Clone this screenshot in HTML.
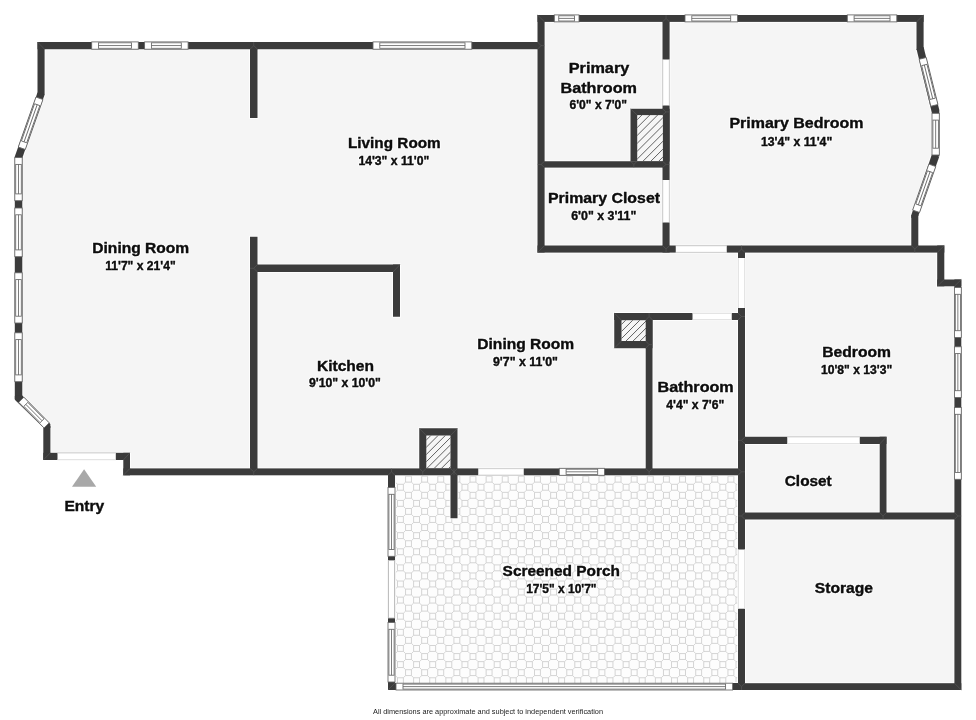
<!DOCTYPE html>
<html><head><meta charset="utf-8"><title>Floor plan</title>
<style>
html,body{margin:0;padding:0;background:#fff;}
body{width:976px;height:720px;overflow:hidden;font-family:"Liberation Sans",sans-serif;}
svg{display:block}
svg text{font-family:"Liberation Sans",sans-serif;}
svg text.h{fill:#fff;stroke:#fff;stroke-width:2.4px;stroke-opacity:.8;fill-opacity:.8;stroke-linejoin:round}
svg text.f{fill:#0d0d0d;stroke:#0d0d0d;stroke-width:.4px}
#wrap{will-change:transform;transform:translateZ(0)}
</style></head><body>
<div id="wrap"><svg width="976" height="720" viewBox="0 0 976 720">
<defs>
<pattern id="tile" patternUnits="userSpaceOnUse" width="16.12" height="16.12" x="396.41" y="475.17">
<rect width="16.12" height="16.12" fill="#fdfdfd"/>
<g fill="none" stroke="#cfcfcf" stroke-width="0.9"><rect x="-15.04" y="-6.98" width="5.90" height="5.90"/><path d="M-9.14 -1.08L-6.98 1.08M-15.04 -1.08L-17.20 1.08"/><rect x="-15.04" y="9.14" width="5.90" height="5.90"/><path d="M-9.14 15.04L-6.98 17.20M-15.04 15.04L-17.20 17.20"/><rect x="-15.04" y="25.26" width="5.90" height="5.90"/><path d="M-9.14 31.16L-6.98 33.32M-15.04 31.16L-17.20 33.32"/><rect x="-6.98" y="-15.04" width="5.90" height="5.90"/><path d="M-1.08 -9.14L1.08 -6.98M-6.98 -9.14L-9.14 -6.98"/><rect x="-6.98" y="1.08" width="5.90" height="5.90"/><path d="M-1.08 6.98L1.08 9.14M-6.98 6.98L-9.14 9.14"/><rect x="-6.98" y="17.20" width="5.90" height="5.90"/><path d="M-1.08 23.10L1.08 25.26M-6.98 23.10L-9.14 25.26"/><rect x="-6.98" y="33.32" width="5.90" height="5.90"/><path d="M-1.08 39.22L1.08 41.38M-6.98 39.22L-9.14 41.38"/><rect x="1.08" y="-6.98" width="5.90" height="5.90"/><path d="M6.98 -1.08L9.14 1.08M1.08 -1.08L-1.08 1.08"/><rect x="1.08" y="9.14" width="5.90" height="5.90"/><path d="M6.98 15.04L9.14 17.20M1.08 15.04L-1.08 17.20"/><rect x="1.08" y="25.26" width="5.90" height="5.90"/><path d="M6.98 31.16L9.14 33.32M1.08 31.16L-1.08 33.32"/><rect x="9.14" y="-15.04" width="5.90" height="5.90"/><path d="M15.04 -9.14L17.20 -6.98M9.14 -9.14L6.98 -6.98"/><rect x="9.14" y="1.08" width="5.90" height="5.90"/><path d="M15.04 6.98L17.20 9.14M9.14 6.98L6.98 9.14"/><rect x="9.14" y="17.20" width="5.90" height="5.90"/><path d="M15.04 23.10L17.20 25.26M9.14 23.10L6.98 25.26"/><rect x="9.14" y="33.32" width="5.90" height="5.90"/><path d="M15.04 39.22L17.20 41.38M9.14 39.22L6.98 41.38"/><rect x="17.20" y="-6.98" width="5.90" height="5.90"/><path d="M23.10 -1.08L25.26 1.08M17.20 -1.08L15.04 1.08"/><rect x="17.20" y="9.14" width="5.90" height="5.90"/><path d="M23.10 15.04L25.26 17.20M17.20 15.04L15.04 17.20"/><rect x="17.20" y="25.26" width="5.90" height="5.90"/><path d="M23.10 31.16L25.26 33.32M17.20 31.16L15.04 33.32"/><rect x="25.26" y="-15.04" width="5.90" height="5.90"/><path d="M31.16 -9.14L33.32 -6.98M25.26 -9.14L23.10 -6.98"/><rect x="25.26" y="1.08" width="5.90" height="5.90"/><path d="M31.16 6.98L33.32 9.14M25.26 6.98L23.10 9.14"/><rect x="25.26" y="17.20" width="5.90" height="5.90"/><path d="M31.16 23.10L33.32 25.26M25.26 23.10L23.10 25.26"/><rect x="25.26" y="33.32" width="5.90" height="5.90"/><path d="M31.16 39.22L33.32 41.38M25.26 39.22L23.10 41.38"/><rect x="33.32" y="-6.98" width="5.90" height="5.90"/><path d="M39.22 -1.08L41.38 1.08M33.32 -1.08L31.16 1.08"/><rect x="33.32" y="9.14" width="5.90" height="5.90"/><path d="M39.22 15.04L41.38 17.20M33.32 15.04L31.16 17.20"/><rect x="33.32" y="25.26" width="5.90" height="5.90"/><path d="M39.22 31.16L41.38 33.32M33.32 31.16L31.16 33.32"/></g>
</pattern>
<pattern id="hatch" patternUnits="userSpaceOnUse" width="5.66" height="5.66" patternTransform="rotate(-45)">
<rect width="5.66" height="5.66" fill="#f5f5f5"/><line x1="0" y1="2.8" x2="5.66" y2="2.8" stroke="#5a5a5a" stroke-width="0.9"/></pattern>
</defs>
<polygon points="41.00,45.50 541.00,45.50 541.00,18.00 920.00,18.00 920.00,48.50 935.50,111.50 935.50,155.50 915.00,216.00 915.00,249.00 940.70,249.00 940.70,283.00 958.00,283.00 958.00,686.50 741.50,686.50 741.50,472.00 126.50,472.00 126.50,456.50 46.80,456.50 46.80,426.00 18.50,398.00 18.50,157.50 41.00,94.00" fill="#f5f5f5" />
<rect x="391.50" y="472.00" width="350.00" height="214.50" fill="#fdfdfd" />
<clipPath id="pc"><rect x="391.5" y="472" width="350" height="214.5"/></clipPath><path clip-path="url(#pc)" fill="none" stroke="#cfcfcf" stroke-width="0.9" d="M389.43 460.13h5.90v5.90h-5.90zm0 5.90l-2.16 2.16m8.06 -2.16l2.16 2.16M405.55 460.13h5.90v5.90h-5.90zm0 5.90l-2.16 2.16m8.06 -2.16l2.16 2.16M421.67 460.13h5.90v5.90h-5.90zm0 5.90l-2.16 2.16m8.06 -2.16l2.16 2.16M437.79 460.13h5.90v5.90h-5.90zm0 5.90l-2.16 2.16m8.06 -2.16l2.16 2.16M453.91 460.13h5.90v5.90h-5.90zm0 5.90l-2.16 2.16m8.06 -2.16l2.16 2.16M470.03 460.13h5.90v5.90h-5.90zm0 5.90l-2.16 2.16m8.06 -2.16l2.16 2.16M486.15 460.13h5.90v5.90h-5.90zm0 5.90l-2.16 2.16m8.06 -2.16l2.16 2.16M502.27 460.13h5.90v5.90h-5.90zm0 5.90l-2.16 2.16m8.06 -2.16l2.16 2.16M518.39 460.13h5.90v5.90h-5.90zm0 5.90l-2.16 2.16m8.06 -2.16l2.16 2.16M534.51 460.13h5.90v5.90h-5.90zm0 5.90l-2.16 2.16m8.06 -2.16l2.16 2.16M550.63 460.13h5.90v5.90h-5.90zm0 5.90l-2.16 2.16m8.06 -2.16l2.16 2.16M566.75 460.13h5.90v5.90h-5.90zm0 5.90l-2.16 2.16m8.06 -2.16l2.16 2.16M582.87 460.13h5.90v5.90h-5.90zm0 5.90l-2.16 2.16m8.06 -2.16l2.16 2.16M598.99 460.13h5.90v5.90h-5.90zm0 5.90l-2.16 2.16m8.06 -2.16l2.16 2.16M615.11 460.13h5.90v5.90h-5.90zm0 5.90l-2.16 2.16m8.06 -2.16l2.16 2.16M631.23 460.13h5.90v5.90h-5.90zm0 5.90l-2.16 2.16m8.06 -2.16l2.16 2.16M647.35 460.13h5.90v5.90h-5.90zm0 5.90l-2.16 2.16m8.06 -2.16l2.16 2.16M663.47 460.13h5.90v5.90h-5.90zm0 5.90l-2.16 2.16m8.06 -2.16l2.16 2.16M679.59 460.13h5.90v5.90h-5.90zm0 5.90l-2.16 2.16m8.06 -2.16l2.16 2.16M695.71 460.13h5.90v5.90h-5.90zm0 5.90l-2.16 2.16m8.06 -2.16l2.16 2.16M711.83 460.13h5.90v5.90h-5.90zm0 5.90l-2.16 2.16m8.06 -2.16l2.16 2.16M727.95 460.13h5.90v5.90h-5.90zm0 5.90l-2.16 2.16m8.06 -2.16l2.16 2.16M744.07 460.13h5.90v5.90h-5.90zm0 5.90l-2.16 2.16m8.06 -2.16l2.16 2.16M381.37 468.19h5.90v5.90h-5.90zm0 5.90l-2.16 2.16m8.06 -2.16l2.16 2.16M397.49 468.19h5.90v5.90h-5.90zm0 5.90l-2.16 2.16m8.06 -2.16l2.16 2.16M413.61 468.19h5.90v5.90h-5.90zm0 5.90l-2.16 2.16m8.06 -2.16l2.16 2.16M429.73 468.19h5.90v5.90h-5.90zm0 5.90l-2.16 2.16m8.06 -2.16l2.16 2.16M445.85 468.19h5.90v5.90h-5.90zm0 5.90l-2.16 2.16m8.06 -2.16l2.16 2.16M461.97 468.19h5.90v5.90h-5.90zm0 5.90l-2.16 2.16m8.06 -2.16l2.16 2.16M478.09 468.19h5.90v5.90h-5.90zm0 5.90l-2.16 2.16m8.06 -2.16l2.16 2.16M494.21 468.19h5.90v5.90h-5.90zm0 5.90l-2.16 2.16m8.06 -2.16l2.16 2.16M510.33 468.19h5.90v5.90h-5.90zm0 5.90l-2.16 2.16m8.06 -2.16l2.16 2.16M526.45 468.19h5.90v5.90h-5.90zm0 5.90l-2.16 2.16m8.06 -2.16l2.16 2.16M542.57 468.19h5.90v5.90h-5.90zm0 5.90l-2.16 2.16m8.06 -2.16l2.16 2.16M558.69 468.19h5.90v5.90h-5.90zm0 5.90l-2.16 2.16m8.06 -2.16l2.16 2.16M574.81 468.19h5.90v5.90h-5.90zm0 5.90l-2.16 2.16m8.06 -2.16l2.16 2.16M590.93 468.19h5.90v5.90h-5.90zm0 5.90l-2.16 2.16m8.06 -2.16l2.16 2.16M607.05 468.19h5.90v5.90h-5.90zm0 5.90l-2.16 2.16m8.06 -2.16l2.16 2.16M623.17 468.19h5.90v5.90h-5.90zm0 5.90l-2.16 2.16m8.06 -2.16l2.16 2.16M639.29 468.19h5.90v5.90h-5.90zm0 5.90l-2.16 2.16m8.06 -2.16l2.16 2.16M655.41 468.19h5.90v5.90h-5.90zm0 5.90l-2.16 2.16m8.06 -2.16l2.16 2.16M671.53 468.19h5.90v5.90h-5.90zm0 5.90l-2.16 2.16m8.06 -2.16l2.16 2.16M687.65 468.19h5.90v5.90h-5.90zm0 5.90l-2.16 2.16m8.06 -2.16l2.16 2.16M703.77 468.19h5.90v5.90h-5.90zm0 5.90l-2.16 2.16m8.06 -2.16l2.16 2.16M719.89 468.19h5.90v5.90h-5.90zm0 5.90l-2.16 2.16m8.06 -2.16l2.16 2.16M736.01 468.19h5.90v5.90h-5.90zm0 5.90l-2.16 2.16m8.06 -2.16l2.16 2.16M389.43 476.25h5.90v5.90h-5.90zm0 5.90l-2.16 2.16m8.06 -2.16l2.16 2.16M405.55 476.25h5.90v5.90h-5.90zm0 5.90l-2.16 2.16m8.06 -2.16l2.16 2.16M421.67 476.25h5.90v5.90h-5.90zm0 5.90l-2.16 2.16m8.06 -2.16l2.16 2.16M437.79 476.25h5.90v5.90h-5.90zm0 5.90l-2.16 2.16m8.06 -2.16l2.16 2.16M453.91 476.25h5.90v5.90h-5.90zm0 5.90l-2.16 2.16m8.06 -2.16l2.16 2.16M470.03 476.25h5.90v5.90h-5.90zm0 5.90l-2.16 2.16m8.06 -2.16l2.16 2.16M486.15 476.25h5.90v5.90h-5.90zm0 5.90l-2.16 2.16m8.06 -2.16l2.16 2.16M502.27 476.25h5.90v5.90h-5.90zm0 5.90l-2.16 2.16m8.06 -2.16l2.16 2.16M518.39 476.25h5.90v5.90h-5.90zm0 5.90l-2.16 2.16m8.06 -2.16l2.16 2.16M534.51 476.25h5.90v5.90h-5.90zm0 5.90l-2.16 2.16m8.06 -2.16l2.16 2.16M550.63 476.25h5.90v5.90h-5.90zm0 5.90l-2.16 2.16m8.06 -2.16l2.16 2.16M566.75 476.25h5.90v5.90h-5.90zm0 5.90l-2.16 2.16m8.06 -2.16l2.16 2.16M582.87 476.25h5.90v5.90h-5.90zm0 5.90l-2.16 2.16m8.06 -2.16l2.16 2.16M598.99 476.25h5.90v5.90h-5.90zm0 5.90l-2.16 2.16m8.06 -2.16l2.16 2.16M615.11 476.25h5.90v5.90h-5.90zm0 5.90l-2.16 2.16m8.06 -2.16l2.16 2.16M631.23 476.25h5.90v5.90h-5.90zm0 5.90l-2.16 2.16m8.06 -2.16l2.16 2.16M647.35 476.25h5.90v5.90h-5.90zm0 5.90l-2.16 2.16m8.06 -2.16l2.16 2.16M663.47 476.25h5.90v5.90h-5.90zm0 5.90l-2.16 2.16m8.06 -2.16l2.16 2.16M679.59 476.25h5.90v5.90h-5.90zm0 5.90l-2.16 2.16m8.06 -2.16l2.16 2.16M695.71 476.25h5.90v5.90h-5.90zm0 5.90l-2.16 2.16m8.06 -2.16l2.16 2.16M711.83 476.25h5.90v5.90h-5.90zm0 5.90l-2.16 2.16m8.06 -2.16l2.16 2.16M727.95 476.25h5.90v5.90h-5.90zm0 5.90l-2.16 2.16m8.06 -2.16l2.16 2.16M744.07 476.25h5.90v5.90h-5.90zm0 5.90l-2.16 2.16m8.06 -2.16l2.16 2.16M381.37 484.31h5.90v5.90h-5.90zm0 5.90l-2.16 2.16m8.06 -2.16l2.16 2.16M397.49 484.31h5.90v5.90h-5.90zm0 5.90l-2.16 2.16m8.06 -2.16l2.16 2.16M413.61 484.31h5.90v5.90h-5.90zm0 5.90l-2.16 2.16m8.06 -2.16l2.16 2.16M429.73 484.31h5.90v5.90h-5.90zm0 5.90l-2.16 2.16m8.06 -2.16l2.16 2.16M445.85 484.31h5.90v5.90h-5.90zm0 5.90l-2.16 2.16m8.06 -2.16l2.16 2.16M461.97 484.31h5.90v5.90h-5.90zm0 5.90l-2.16 2.16m8.06 -2.16l2.16 2.16M478.09 484.31h5.90v5.90h-5.90zm0 5.90l-2.16 2.16m8.06 -2.16l2.16 2.16M494.21 484.31h5.90v5.90h-5.90zm0 5.90l-2.16 2.16m8.06 -2.16l2.16 2.16M510.33 484.31h5.90v5.90h-5.90zm0 5.90l-2.16 2.16m8.06 -2.16l2.16 2.16M526.45 484.31h5.90v5.90h-5.90zm0 5.90l-2.16 2.16m8.06 -2.16l2.16 2.16M542.57 484.31h5.90v5.90h-5.90zm0 5.90l-2.16 2.16m8.06 -2.16l2.16 2.16M558.69 484.31h5.90v5.90h-5.90zm0 5.90l-2.16 2.16m8.06 -2.16l2.16 2.16M574.81 484.31h5.90v5.90h-5.90zm0 5.90l-2.16 2.16m8.06 -2.16l2.16 2.16M590.93 484.31h5.90v5.90h-5.90zm0 5.90l-2.16 2.16m8.06 -2.16l2.16 2.16M607.05 484.31h5.90v5.90h-5.90zm0 5.90l-2.16 2.16m8.06 -2.16l2.16 2.16M623.17 484.31h5.90v5.90h-5.90zm0 5.90l-2.16 2.16m8.06 -2.16l2.16 2.16M639.29 484.31h5.90v5.90h-5.90zm0 5.90l-2.16 2.16m8.06 -2.16l2.16 2.16M655.41 484.31h5.90v5.90h-5.90zm0 5.90l-2.16 2.16m8.06 -2.16l2.16 2.16M671.53 484.31h5.90v5.90h-5.90zm0 5.90l-2.16 2.16m8.06 -2.16l2.16 2.16M687.65 484.31h5.90v5.90h-5.90zm0 5.90l-2.16 2.16m8.06 -2.16l2.16 2.16M703.77 484.31h5.90v5.90h-5.90zm0 5.90l-2.16 2.16m8.06 -2.16l2.16 2.16M719.89 484.31h5.90v5.90h-5.90zm0 5.90l-2.16 2.16m8.06 -2.16l2.16 2.16M736.01 484.31h5.90v5.90h-5.90zm0 5.90l-2.16 2.16m8.06 -2.16l2.16 2.16M389.43 492.37h5.90v5.90h-5.90zm0 5.90l-2.16 2.16m8.06 -2.16l2.16 2.16M405.55 492.37h5.90v5.90h-5.90zm0 5.90l-2.16 2.16m8.06 -2.16l2.16 2.16M421.67 492.37h5.90v5.90h-5.90zm0 5.90l-2.16 2.16m8.06 -2.16l2.16 2.16M437.79 492.37h5.90v5.90h-5.90zm0 5.90l-2.16 2.16m8.06 -2.16l2.16 2.16M453.91 492.37h5.90v5.90h-5.90zm0 5.90l-2.16 2.16m8.06 -2.16l2.16 2.16M470.03 492.37h5.90v5.90h-5.90zm0 5.90l-2.16 2.16m8.06 -2.16l2.16 2.16M486.15 492.37h5.90v5.90h-5.90zm0 5.90l-2.16 2.16m8.06 -2.16l2.16 2.16M502.27 492.37h5.90v5.90h-5.90zm0 5.90l-2.16 2.16m8.06 -2.16l2.16 2.16M518.39 492.37h5.90v5.90h-5.90zm0 5.90l-2.16 2.16m8.06 -2.16l2.16 2.16M534.51 492.37h5.90v5.90h-5.90zm0 5.90l-2.16 2.16m8.06 -2.16l2.16 2.16M550.63 492.37h5.90v5.90h-5.90zm0 5.90l-2.16 2.16m8.06 -2.16l2.16 2.16M566.75 492.37h5.90v5.90h-5.90zm0 5.90l-2.16 2.16m8.06 -2.16l2.16 2.16M582.87 492.37h5.90v5.90h-5.90zm0 5.90l-2.16 2.16m8.06 -2.16l2.16 2.16M598.99 492.37h5.90v5.90h-5.90zm0 5.90l-2.16 2.16m8.06 -2.16l2.16 2.16M615.11 492.37h5.90v5.90h-5.90zm0 5.90l-2.16 2.16m8.06 -2.16l2.16 2.16M631.23 492.37h5.90v5.90h-5.90zm0 5.90l-2.16 2.16m8.06 -2.16l2.16 2.16M647.35 492.37h5.90v5.90h-5.90zm0 5.90l-2.16 2.16m8.06 -2.16l2.16 2.16M663.47 492.37h5.90v5.90h-5.90zm0 5.90l-2.16 2.16m8.06 -2.16l2.16 2.16M679.59 492.37h5.90v5.90h-5.90zm0 5.90l-2.16 2.16m8.06 -2.16l2.16 2.16M695.71 492.37h5.90v5.90h-5.90zm0 5.90l-2.16 2.16m8.06 -2.16l2.16 2.16M711.83 492.37h5.90v5.90h-5.90zm0 5.90l-2.16 2.16m8.06 -2.16l2.16 2.16M727.95 492.37h5.90v5.90h-5.90zm0 5.90l-2.16 2.16m8.06 -2.16l2.16 2.16M744.07 492.37h5.90v5.90h-5.90zm0 5.90l-2.16 2.16m8.06 -2.16l2.16 2.16M381.37 500.43h5.90v5.90h-5.90zm0 5.90l-2.16 2.16m8.06 -2.16l2.16 2.16M397.49 500.43h5.90v5.90h-5.90zm0 5.90l-2.16 2.16m8.06 -2.16l2.16 2.16M413.61 500.43h5.90v5.90h-5.90zm0 5.90l-2.16 2.16m8.06 -2.16l2.16 2.16M429.73 500.43h5.90v5.90h-5.90zm0 5.90l-2.16 2.16m8.06 -2.16l2.16 2.16M445.85 500.43h5.90v5.90h-5.90zm0 5.90l-2.16 2.16m8.06 -2.16l2.16 2.16M461.97 500.43h5.90v5.90h-5.90zm0 5.90l-2.16 2.16m8.06 -2.16l2.16 2.16M478.09 500.43h5.90v5.90h-5.90zm0 5.90l-2.16 2.16m8.06 -2.16l2.16 2.16M494.21 500.43h5.90v5.90h-5.90zm0 5.90l-2.16 2.16m8.06 -2.16l2.16 2.16M510.33 500.43h5.90v5.90h-5.90zm0 5.90l-2.16 2.16m8.06 -2.16l2.16 2.16M526.45 500.43h5.90v5.90h-5.90zm0 5.90l-2.16 2.16m8.06 -2.16l2.16 2.16M542.57 500.43h5.90v5.90h-5.90zm0 5.90l-2.16 2.16m8.06 -2.16l2.16 2.16M558.69 500.43h5.90v5.90h-5.90zm0 5.90l-2.16 2.16m8.06 -2.16l2.16 2.16M574.81 500.43h5.90v5.90h-5.90zm0 5.90l-2.16 2.16m8.06 -2.16l2.16 2.16M590.93 500.43h5.90v5.90h-5.90zm0 5.90l-2.16 2.16m8.06 -2.16l2.16 2.16M607.05 500.43h5.90v5.90h-5.90zm0 5.90l-2.16 2.16m8.06 -2.16l2.16 2.16M623.17 500.43h5.90v5.90h-5.90zm0 5.90l-2.16 2.16m8.06 -2.16l2.16 2.16M639.29 500.43h5.90v5.90h-5.90zm0 5.90l-2.16 2.16m8.06 -2.16l2.16 2.16M655.41 500.43h5.90v5.90h-5.90zm0 5.90l-2.16 2.16m8.06 -2.16l2.16 2.16M671.53 500.43h5.90v5.90h-5.90zm0 5.90l-2.16 2.16m8.06 -2.16l2.16 2.16M687.65 500.43h5.90v5.90h-5.90zm0 5.90l-2.16 2.16m8.06 -2.16l2.16 2.16M703.77 500.43h5.90v5.90h-5.90zm0 5.90l-2.16 2.16m8.06 -2.16l2.16 2.16M719.89 500.43h5.90v5.90h-5.90zm0 5.90l-2.16 2.16m8.06 -2.16l2.16 2.16M736.01 500.43h5.90v5.90h-5.90zm0 5.90l-2.16 2.16m8.06 -2.16l2.16 2.16M389.43 508.49h5.90v5.90h-5.90zm0 5.90l-2.16 2.16m8.06 -2.16l2.16 2.16M405.55 508.49h5.90v5.90h-5.90zm0 5.90l-2.16 2.16m8.06 -2.16l2.16 2.16M421.67 508.49h5.90v5.90h-5.90zm0 5.90l-2.16 2.16m8.06 -2.16l2.16 2.16M437.79 508.49h5.90v5.90h-5.90zm0 5.90l-2.16 2.16m8.06 -2.16l2.16 2.16M453.91 508.49h5.90v5.90h-5.90zm0 5.90l-2.16 2.16m8.06 -2.16l2.16 2.16M470.03 508.49h5.90v5.90h-5.90zm0 5.90l-2.16 2.16m8.06 -2.16l2.16 2.16M486.15 508.49h5.90v5.90h-5.90zm0 5.90l-2.16 2.16m8.06 -2.16l2.16 2.16M502.27 508.49h5.90v5.90h-5.90zm0 5.90l-2.16 2.16m8.06 -2.16l2.16 2.16M518.39 508.49h5.90v5.90h-5.90zm0 5.90l-2.16 2.16m8.06 -2.16l2.16 2.16M534.51 508.49h5.90v5.90h-5.90zm0 5.90l-2.16 2.16m8.06 -2.16l2.16 2.16M550.63 508.49h5.90v5.90h-5.90zm0 5.90l-2.16 2.16m8.06 -2.16l2.16 2.16M566.75 508.49h5.90v5.90h-5.90zm0 5.90l-2.16 2.16m8.06 -2.16l2.16 2.16M582.87 508.49h5.90v5.90h-5.90zm0 5.90l-2.16 2.16m8.06 -2.16l2.16 2.16M598.99 508.49h5.90v5.90h-5.90zm0 5.90l-2.16 2.16m8.06 -2.16l2.16 2.16M615.11 508.49h5.90v5.90h-5.90zm0 5.90l-2.16 2.16m8.06 -2.16l2.16 2.16M631.23 508.49h5.90v5.90h-5.90zm0 5.90l-2.16 2.16m8.06 -2.16l2.16 2.16M647.35 508.49h5.90v5.90h-5.90zm0 5.90l-2.16 2.16m8.06 -2.16l2.16 2.16M663.47 508.49h5.90v5.90h-5.90zm0 5.90l-2.16 2.16m8.06 -2.16l2.16 2.16M679.59 508.49h5.90v5.90h-5.90zm0 5.90l-2.16 2.16m8.06 -2.16l2.16 2.16M695.71 508.49h5.90v5.90h-5.90zm0 5.90l-2.16 2.16m8.06 -2.16l2.16 2.16M711.83 508.49h5.90v5.90h-5.90zm0 5.90l-2.16 2.16m8.06 -2.16l2.16 2.16M727.95 508.49h5.90v5.90h-5.90zm0 5.90l-2.16 2.16m8.06 -2.16l2.16 2.16M744.07 508.49h5.90v5.90h-5.90zm0 5.90l-2.16 2.16m8.06 -2.16l2.16 2.16M381.37 516.55h5.90v5.90h-5.90zm0 5.90l-2.16 2.16m8.06 -2.16l2.16 2.16M397.49 516.55h5.90v5.90h-5.90zm0 5.90l-2.16 2.16m8.06 -2.16l2.16 2.16M413.61 516.55h5.90v5.90h-5.90zm0 5.90l-2.16 2.16m8.06 -2.16l2.16 2.16M429.73 516.55h5.90v5.90h-5.90zm0 5.90l-2.16 2.16m8.06 -2.16l2.16 2.16M445.85 516.55h5.90v5.90h-5.90zm0 5.90l-2.16 2.16m8.06 -2.16l2.16 2.16M461.97 516.55h5.90v5.90h-5.90zm0 5.90l-2.16 2.16m8.06 -2.16l2.16 2.16M478.09 516.55h5.90v5.90h-5.90zm0 5.90l-2.16 2.16m8.06 -2.16l2.16 2.16M494.21 516.55h5.90v5.90h-5.90zm0 5.90l-2.16 2.16m8.06 -2.16l2.16 2.16M510.33 516.55h5.90v5.90h-5.90zm0 5.90l-2.16 2.16m8.06 -2.16l2.16 2.16M526.45 516.55h5.90v5.90h-5.90zm0 5.90l-2.16 2.16m8.06 -2.16l2.16 2.16M542.57 516.55h5.90v5.90h-5.90zm0 5.90l-2.16 2.16m8.06 -2.16l2.16 2.16M558.69 516.55h5.90v5.90h-5.90zm0 5.90l-2.16 2.16m8.06 -2.16l2.16 2.16M574.81 516.55h5.90v5.90h-5.90zm0 5.90l-2.16 2.16m8.06 -2.16l2.16 2.16M590.93 516.55h5.90v5.90h-5.90zm0 5.90l-2.16 2.16m8.06 -2.16l2.16 2.16M607.05 516.55h5.90v5.90h-5.90zm0 5.90l-2.16 2.16m8.06 -2.16l2.16 2.16M623.17 516.55h5.90v5.90h-5.90zm0 5.90l-2.16 2.16m8.06 -2.16l2.16 2.16M639.29 516.55h5.90v5.90h-5.90zm0 5.90l-2.16 2.16m8.06 -2.16l2.16 2.16M655.41 516.55h5.90v5.90h-5.90zm0 5.90l-2.16 2.16m8.06 -2.16l2.16 2.16M671.53 516.55h5.90v5.90h-5.90zm0 5.90l-2.16 2.16m8.06 -2.16l2.16 2.16M687.65 516.55h5.90v5.90h-5.90zm0 5.90l-2.16 2.16m8.06 -2.16l2.16 2.16M703.77 516.55h5.90v5.90h-5.90zm0 5.90l-2.16 2.16m8.06 -2.16l2.16 2.16M719.89 516.55h5.90v5.90h-5.90zm0 5.90l-2.16 2.16m8.06 -2.16l2.16 2.16M736.01 516.55h5.90v5.90h-5.90zm0 5.90l-2.16 2.16m8.06 -2.16l2.16 2.16M389.43 524.61h5.90v5.90h-5.90zm0 5.90l-2.16 2.16m8.06 -2.16l2.16 2.16M405.55 524.61h5.90v5.90h-5.90zm0 5.90l-2.16 2.16m8.06 -2.16l2.16 2.16M421.67 524.61h5.90v5.90h-5.90zm0 5.90l-2.16 2.16m8.06 -2.16l2.16 2.16M437.79 524.61h5.90v5.90h-5.90zm0 5.90l-2.16 2.16m8.06 -2.16l2.16 2.16M453.91 524.61h5.90v5.90h-5.90zm0 5.90l-2.16 2.16m8.06 -2.16l2.16 2.16M470.03 524.61h5.90v5.90h-5.90zm0 5.90l-2.16 2.16m8.06 -2.16l2.16 2.16M486.15 524.61h5.90v5.90h-5.90zm0 5.90l-2.16 2.16m8.06 -2.16l2.16 2.16M502.27 524.61h5.90v5.90h-5.90zm0 5.90l-2.16 2.16m8.06 -2.16l2.16 2.16M518.39 524.61h5.90v5.90h-5.90zm0 5.90l-2.16 2.16m8.06 -2.16l2.16 2.16M534.51 524.61h5.90v5.90h-5.90zm0 5.90l-2.16 2.16m8.06 -2.16l2.16 2.16M550.63 524.61h5.90v5.90h-5.90zm0 5.90l-2.16 2.16m8.06 -2.16l2.16 2.16M566.75 524.61h5.90v5.90h-5.90zm0 5.90l-2.16 2.16m8.06 -2.16l2.16 2.16M582.87 524.61h5.90v5.90h-5.90zm0 5.90l-2.16 2.16m8.06 -2.16l2.16 2.16M598.99 524.61h5.90v5.90h-5.90zm0 5.90l-2.16 2.16m8.06 -2.16l2.16 2.16M615.11 524.61h5.90v5.90h-5.90zm0 5.90l-2.16 2.16m8.06 -2.16l2.16 2.16M631.23 524.61h5.90v5.90h-5.90zm0 5.90l-2.16 2.16m8.06 -2.16l2.16 2.16M647.35 524.61h5.90v5.90h-5.90zm0 5.90l-2.16 2.16m8.06 -2.16l2.16 2.16M663.47 524.61h5.90v5.90h-5.90zm0 5.90l-2.16 2.16m8.06 -2.16l2.16 2.16M679.59 524.61h5.90v5.90h-5.90zm0 5.90l-2.16 2.16m8.06 -2.16l2.16 2.16M695.71 524.61h5.90v5.90h-5.90zm0 5.90l-2.16 2.16m8.06 -2.16l2.16 2.16M711.83 524.61h5.90v5.90h-5.90zm0 5.90l-2.16 2.16m8.06 -2.16l2.16 2.16M727.95 524.61h5.90v5.90h-5.90zm0 5.90l-2.16 2.16m8.06 -2.16l2.16 2.16M744.07 524.61h5.90v5.90h-5.90zm0 5.90l-2.16 2.16m8.06 -2.16l2.16 2.16M381.37 532.67h5.90v5.90h-5.90zm0 5.90l-2.16 2.16m8.06 -2.16l2.16 2.16M397.49 532.67h5.90v5.90h-5.90zm0 5.90l-2.16 2.16m8.06 -2.16l2.16 2.16M413.61 532.67h5.90v5.90h-5.90zm0 5.90l-2.16 2.16m8.06 -2.16l2.16 2.16M429.73 532.67h5.90v5.90h-5.90zm0 5.90l-2.16 2.16m8.06 -2.16l2.16 2.16M445.85 532.67h5.90v5.90h-5.90zm0 5.90l-2.16 2.16m8.06 -2.16l2.16 2.16M461.97 532.67h5.90v5.90h-5.90zm0 5.90l-2.16 2.16m8.06 -2.16l2.16 2.16M478.09 532.67h5.90v5.90h-5.90zm0 5.90l-2.16 2.16m8.06 -2.16l2.16 2.16M494.21 532.67h5.90v5.90h-5.90zm0 5.90l-2.16 2.16m8.06 -2.16l2.16 2.16M510.33 532.67h5.90v5.90h-5.90zm0 5.90l-2.16 2.16m8.06 -2.16l2.16 2.16M526.45 532.67h5.90v5.90h-5.90zm0 5.90l-2.16 2.16m8.06 -2.16l2.16 2.16M542.57 532.67h5.90v5.90h-5.90zm0 5.90l-2.16 2.16m8.06 -2.16l2.16 2.16M558.69 532.67h5.90v5.90h-5.90zm0 5.90l-2.16 2.16m8.06 -2.16l2.16 2.16M574.81 532.67h5.90v5.90h-5.90zm0 5.90l-2.16 2.16m8.06 -2.16l2.16 2.16M590.93 532.67h5.90v5.90h-5.90zm0 5.90l-2.16 2.16m8.06 -2.16l2.16 2.16M607.05 532.67h5.90v5.90h-5.90zm0 5.90l-2.16 2.16m8.06 -2.16l2.16 2.16M623.17 532.67h5.90v5.90h-5.90zm0 5.90l-2.16 2.16m8.06 -2.16l2.16 2.16M639.29 532.67h5.90v5.90h-5.90zm0 5.90l-2.16 2.16m8.06 -2.16l2.16 2.16M655.41 532.67h5.90v5.90h-5.90zm0 5.90l-2.16 2.16m8.06 -2.16l2.16 2.16M671.53 532.67h5.90v5.90h-5.90zm0 5.90l-2.16 2.16m8.06 -2.16l2.16 2.16M687.65 532.67h5.90v5.90h-5.90zm0 5.90l-2.16 2.16m8.06 -2.16l2.16 2.16M703.77 532.67h5.90v5.90h-5.90zm0 5.90l-2.16 2.16m8.06 -2.16l2.16 2.16M719.89 532.67h5.90v5.90h-5.90zm0 5.90l-2.16 2.16m8.06 -2.16l2.16 2.16M736.01 532.67h5.90v5.90h-5.90zm0 5.90l-2.16 2.16m8.06 -2.16l2.16 2.16M389.43 540.73h5.90v5.90h-5.90zm0 5.90l-2.16 2.16m8.06 -2.16l2.16 2.16M405.55 540.73h5.90v5.90h-5.90zm0 5.90l-2.16 2.16m8.06 -2.16l2.16 2.16M421.67 540.73h5.90v5.90h-5.90zm0 5.90l-2.16 2.16m8.06 -2.16l2.16 2.16M437.79 540.73h5.90v5.90h-5.90zm0 5.90l-2.16 2.16m8.06 -2.16l2.16 2.16M453.91 540.73h5.90v5.90h-5.90zm0 5.90l-2.16 2.16m8.06 -2.16l2.16 2.16M470.03 540.73h5.90v5.90h-5.90zm0 5.90l-2.16 2.16m8.06 -2.16l2.16 2.16M486.15 540.73h5.90v5.90h-5.90zm0 5.90l-2.16 2.16m8.06 -2.16l2.16 2.16M502.27 540.73h5.90v5.90h-5.90zm0 5.90l-2.16 2.16m8.06 -2.16l2.16 2.16M518.39 540.73h5.90v5.90h-5.90zm0 5.90l-2.16 2.16m8.06 -2.16l2.16 2.16M534.51 540.73h5.90v5.90h-5.90zm0 5.90l-2.16 2.16m8.06 -2.16l2.16 2.16M550.63 540.73h5.90v5.90h-5.90zm0 5.90l-2.16 2.16m8.06 -2.16l2.16 2.16M566.75 540.73h5.90v5.90h-5.90zm0 5.90l-2.16 2.16m8.06 -2.16l2.16 2.16M582.87 540.73h5.90v5.90h-5.90zm0 5.90l-2.16 2.16m8.06 -2.16l2.16 2.16M598.99 540.73h5.90v5.90h-5.90zm0 5.90l-2.16 2.16m8.06 -2.16l2.16 2.16M615.11 540.73h5.90v5.90h-5.90zm0 5.90l-2.16 2.16m8.06 -2.16l2.16 2.16M631.23 540.73h5.90v5.90h-5.90zm0 5.90l-2.16 2.16m8.06 -2.16l2.16 2.16M647.35 540.73h5.90v5.90h-5.90zm0 5.90l-2.16 2.16m8.06 -2.16l2.16 2.16M663.47 540.73h5.90v5.90h-5.90zm0 5.90l-2.16 2.16m8.06 -2.16l2.16 2.16M679.59 540.73h5.90v5.90h-5.90zm0 5.90l-2.16 2.16m8.06 -2.16l2.16 2.16M695.71 540.73h5.90v5.90h-5.90zm0 5.90l-2.16 2.16m8.06 -2.16l2.16 2.16M711.83 540.73h5.90v5.90h-5.90zm0 5.90l-2.16 2.16m8.06 -2.16l2.16 2.16M727.95 540.73h5.90v5.90h-5.90zm0 5.90l-2.16 2.16m8.06 -2.16l2.16 2.16M744.07 540.73h5.90v5.90h-5.90zm0 5.90l-2.16 2.16m8.06 -2.16l2.16 2.16M381.37 548.79h5.90v5.90h-5.90zm0 5.90l-2.16 2.16m8.06 -2.16l2.16 2.16M397.49 548.79h5.90v5.90h-5.90zm0 5.90l-2.16 2.16m8.06 -2.16l2.16 2.16M413.61 548.79h5.90v5.90h-5.90zm0 5.90l-2.16 2.16m8.06 -2.16l2.16 2.16M429.73 548.79h5.90v5.90h-5.90zm0 5.90l-2.16 2.16m8.06 -2.16l2.16 2.16M445.85 548.79h5.90v5.90h-5.90zm0 5.90l-2.16 2.16m8.06 -2.16l2.16 2.16M461.97 548.79h5.90v5.90h-5.90zm0 5.90l-2.16 2.16m8.06 -2.16l2.16 2.16M478.09 548.79h5.90v5.90h-5.90zm0 5.90l-2.16 2.16m8.06 -2.16l2.16 2.16M494.21 548.79h5.90v5.90h-5.90zm0 5.90l-2.16 2.16m8.06 -2.16l2.16 2.16M510.33 548.79h5.90v5.90h-5.90zm0 5.90l-2.16 2.16m8.06 -2.16l2.16 2.16M526.45 548.79h5.90v5.90h-5.90zm0 5.90l-2.16 2.16m8.06 -2.16l2.16 2.16M542.57 548.79h5.90v5.90h-5.90zm0 5.90l-2.16 2.16m8.06 -2.16l2.16 2.16M558.69 548.79h5.90v5.90h-5.90zm0 5.90l-2.16 2.16m8.06 -2.16l2.16 2.16M574.81 548.79h5.90v5.90h-5.90zm0 5.90l-2.16 2.16m8.06 -2.16l2.16 2.16M590.93 548.79h5.90v5.90h-5.90zm0 5.90l-2.16 2.16m8.06 -2.16l2.16 2.16M607.05 548.79h5.90v5.90h-5.90zm0 5.90l-2.16 2.16m8.06 -2.16l2.16 2.16M623.17 548.79h5.90v5.90h-5.90zm0 5.90l-2.16 2.16m8.06 -2.16l2.16 2.16M639.29 548.79h5.90v5.90h-5.90zm0 5.90l-2.16 2.16m8.06 -2.16l2.16 2.16M655.41 548.79h5.90v5.90h-5.90zm0 5.90l-2.16 2.16m8.06 -2.16l2.16 2.16M671.53 548.79h5.90v5.90h-5.90zm0 5.90l-2.16 2.16m8.06 -2.16l2.16 2.16M687.65 548.79h5.90v5.90h-5.90zm0 5.90l-2.16 2.16m8.06 -2.16l2.16 2.16M703.77 548.79h5.90v5.90h-5.90zm0 5.90l-2.16 2.16m8.06 -2.16l2.16 2.16M719.89 548.79h5.90v5.90h-5.90zm0 5.90l-2.16 2.16m8.06 -2.16l2.16 2.16M736.01 548.79h5.90v5.90h-5.90zm0 5.90l-2.16 2.16m8.06 -2.16l2.16 2.16M389.43 556.85h5.90v5.90h-5.90zm0 5.90l-2.16 2.16m8.06 -2.16l2.16 2.16M405.55 556.85h5.90v5.90h-5.90zm0 5.90l-2.16 2.16m8.06 -2.16l2.16 2.16M421.67 556.85h5.90v5.90h-5.90zm0 5.90l-2.16 2.16m8.06 -2.16l2.16 2.16M437.79 556.85h5.90v5.90h-5.90zm0 5.90l-2.16 2.16m8.06 -2.16l2.16 2.16M453.91 556.85h5.90v5.90h-5.90zm0 5.90l-2.16 2.16m8.06 -2.16l2.16 2.16M470.03 556.85h5.90v5.90h-5.90zm0 5.90l-2.16 2.16m8.06 -2.16l2.16 2.16M486.15 556.85h5.90v5.90h-5.90zm0 5.90l-2.16 2.16m8.06 -2.16l2.16 2.16M502.27 556.85h5.90v5.90h-5.90zm0 5.90l-2.16 2.16m8.06 -2.16l2.16 2.16M518.39 556.85h5.90v5.90h-5.90zm0 5.90l-2.16 2.16m8.06 -2.16l2.16 2.16M534.51 556.85h5.90v5.90h-5.90zm0 5.90l-2.16 2.16m8.06 -2.16l2.16 2.16M550.63 556.85h5.90v5.90h-5.90zm0 5.90l-2.16 2.16m8.06 -2.16l2.16 2.16M566.75 556.85h5.90v5.90h-5.90zm0 5.90l-2.16 2.16m8.06 -2.16l2.16 2.16M582.87 556.85h5.90v5.90h-5.90zm0 5.90l-2.16 2.16m8.06 -2.16l2.16 2.16M598.99 556.85h5.90v5.90h-5.90zm0 5.90l-2.16 2.16m8.06 -2.16l2.16 2.16M615.11 556.85h5.90v5.90h-5.90zm0 5.90l-2.16 2.16m8.06 -2.16l2.16 2.16M631.23 556.85h5.90v5.90h-5.90zm0 5.90l-2.16 2.16m8.06 -2.16l2.16 2.16M647.35 556.85h5.90v5.90h-5.90zm0 5.90l-2.16 2.16m8.06 -2.16l2.16 2.16M663.47 556.85h5.90v5.90h-5.90zm0 5.90l-2.16 2.16m8.06 -2.16l2.16 2.16M679.59 556.85h5.90v5.90h-5.90zm0 5.90l-2.16 2.16m8.06 -2.16l2.16 2.16M695.71 556.85h5.90v5.90h-5.90zm0 5.90l-2.16 2.16m8.06 -2.16l2.16 2.16M711.83 556.85h5.90v5.90h-5.90zm0 5.90l-2.16 2.16m8.06 -2.16l2.16 2.16M727.95 556.85h5.90v5.90h-5.90zm0 5.90l-2.16 2.16m8.06 -2.16l2.16 2.16M744.07 556.85h5.90v5.90h-5.90zm0 5.90l-2.16 2.16m8.06 -2.16l2.16 2.16M381.37 564.91h5.90v5.90h-5.90zm0 5.90l-2.16 2.16m8.06 -2.16l2.16 2.16M397.49 564.91h5.90v5.90h-5.90zm0 5.90l-2.16 2.16m8.06 -2.16l2.16 2.16M413.61 564.91h5.90v5.90h-5.90zm0 5.90l-2.16 2.16m8.06 -2.16l2.16 2.16M429.73 564.91h5.90v5.90h-5.90zm0 5.90l-2.16 2.16m8.06 -2.16l2.16 2.16M445.85 564.91h5.90v5.90h-5.90zm0 5.90l-2.16 2.16m8.06 -2.16l2.16 2.16M461.97 564.91h5.90v5.90h-5.90zm0 5.90l-2.16 2.16m8.06 -2.16l2.16 2.16M478.09 564.91h5.90v5.90h-5.90zm0 5.90l-2.16 2.16m8.06 -2.16l2.16 2.16M494.21 564.91h5.90v5.90h-5.90zm0 5.90l-2.16 2.16m8.06 -2.16l2.16 2.16M510.33 564.91h5.90v5.90h-5.90zm0 5.90l-2.16 2.16m8.06 -2.16l2.16 2.16M526.45 564.91h5.90v5.90h-5.90zm0 5.90l-2.16 2.16m8.06 -2.16l2.16 2.16M542.57 564.91h5.90v5.90h-5.90zm0 5.90l-2.16 2.16m8.06 -2.16l2.16 2.16M558.69 564.91h5.90v5.90h-5.90zm0 5.90l-2.16 2.16m8.06 -2.16l2.16 2.16M574.81 564.91h5.90v5.90h-5.90zm0 5.90l-2.16 2.16m8.06 -2.16l2.16 2.16M590.93 564.91h5.90v5.90h-5.90zm0 5.90l-2.16 2.16m8.06 -2.16l2.16 2.16M607.05 564.91h5.90v5.90h-5.90zm0 5.90l-2.16 2.16m8.06 -2.16l2.16 2.16M623.17 564.91h5.90v5.90h-5.90zm0 5.90l-2.16 2.16m8.06 -2.16l2.16 2.16M639.29 564.91h5.90v5.90h-5.90zm0 5.90l-2.16 2.16m8.06 -2.16l2.16 2.16M655.41 564.91h5.90v5.90h-5.90zm0 5.90l-2.16 2.16m8.06 -2.16l2.16 2.16M671.53 564.91h5.90v5.90h-5.90zm0 5.90l-2.16 2.16m8.06 -2.16l2.16 2.16M687.65 564.91h5.90v5.90h-5.90zm0 5.90l-2.16 2.16m8.06 -2.16l2.16 2.16M703.77 564.91h5.90v5.90h-5.90zm0 5.90l-2.16 2.16m8.06 -2.16l2.16 2.16M719.89 564.91h5.90v5.90h-5.90zm0 5.90l-2.16 2.16m8.06 -2.16l2.16 2.16M736.01 564.91h5.90v5.90h-5.90zm0 5.90l-2.16 2.16m8.06 -2.16l2.16 2.16M389.43 572.97h5.90v5.90h-5.90zm0 5.90l-2.16 2.16m8.06 -2.16l2.16 2.16M405.55 572.97h5.90v5.90h-5.90zm0 5.90l-2.16 2.16m8.06 -2.16l2.16 2.16M421.67 572.97h5.90v5.90h-5.90zm0 5.90l-2.16 2.16m8.06 -2.16l2.16 2.16M437.79 572.97h5.90v5.90h-5.90zm0 5.90l-2.16 2.16m8.06 -2.16l2.16 2.16M453.91 572.97h5.90v5.90h-5.90zm0 5.90l-2.16 2.16m8.06 -2.16l2.16 2.16M470.03 572.97h5.90v5.90h-5.90zm0 5.90l-2.16 2.16m8.06 -2.16l2.16 2.16M486.15 572.97h5.90v5.90h-5.90zm0 5.90l-2.16 2.16m8.06 -2.16l2.16 2.16M502.27 572.97h5.90v5.90h-5.90zm0 5.90l-2.16 2.16m8.06 -2.16l2.16 2.16M518.39 572.97h5.90v5.90h-5.90zm0 5.90l-2.16 2.16m8.06 -2.16l2.16 2.16M534.51 572.97h5.90v5.90h-5.90zm0 5.90l-2.16 2.16m8.06 -2.16l2.16 2.16M550.63 572.97h5.90v5.90h-5.90zm0 5.90l-2.16 2.16m8.06 -2.16l2.16 2.16M566.75 572.97h5.90v5.90h-5.90zm0 5.90l-2.16 2.16m8.06 -2.16l2.16 2.16M582.87 572.97h5.90v5.90h-5.90zm0 5.90l-2.16 2.16m8.06 -2.16l2.16 2.16M598.99 572.97h5.90v5.90h-5.90zm0 5.90l-2.16 2.16m8.06 -2.16l2.16 2.16M615.11 572.97h5.90v5.90h-5.90zm0 5.90l-2.16 2.16m8.06 -2.16l2.16 2.16M631.23 572.97h5.90v5.90h-5.90zm0 5.90l-2.16 2.16m8.06 -2.16l2.16 2.16M647.35 572.97h5.90v5.90h-5.90zm0 5.90l-2.16 2.16m8.06 -2.16l2.16 2.16M663.47 572.97h5.90v5.90h-5.90zm0 5.90l-2.16 2.16m8.06 -2.16l2.16 2.16M679.59 572.97h5.90v5.90h-5.90zm0 5.90l-2.16 2.16m8.06 -2.16l2.16 2.16M695.71 572.97h5.90v5.90h-5.90zm0 5.90l-2.16 2.16m8.06 -2.16l2.16 2.16M711.83 572.97h5.90v5.90h-5.90zm0 5.90l-2.16 2.16m8.06 -2.16l2.16 2.16M727.95 572.97h5.90v5.90h-5.90zm0 5.90l-2.16 2.16m8.06 -2.16l2.16 2.16M744.07 572.97h5.90v5.90h-5.90zm0 5.90l-2.16 2.16m8.06 -2.16l2.16 2.16M381.37 581.03h5.90v5.90h-5.90zm0 5.90l-2.16 2.16m8.06 -2.16l2.16 2.16M397.49 581.03h5.90v5.90h-5.90zm0 5.90l-2.16 2.16m8.06 -2.16l2.16 2.16M413.61 581.03h5.90v5.90h-5.90zm0 5.90l-2.16 2.16m8.06 -2.16l2.16 2.16M429.73 581.03h5.90v5.90h-5.90zm0 5.90l-2.16 2.16m8.06 -2.16l2.16 2.16M445.85 581.03h5.90v5.90h-5.90zm0 5.90l-2.16 2.16m8.06 -2.16l2.16 2.16M461.97 581.03h5.90v5.90h-5.90zm0 5.90l-2.16 2.16m8.06 -2.16l2.16 2.16M478.09 581.03h5.90v5.90h-5.90zm0 5.90l-2.16 2.16m8.06 -2.16l2.16 2.16M494.21 581.03h5.90v5.90h-5.90zm0 5.90l-2.16 2.16m8.06 -2.16l2.16 2.16M510.33 581.03h5.90v5.90h-5.90zm0 5.90l-2.16 2.16m8.06 -2.16l2.16 2.16M526.45 581.03h5.90v5.90h-5.90zm0 5.90l-2.16 2.16m8.06 -2.16l2.16 2.16M542.57 581.03h5.90v5.90h-5.90zm0 5.90l-2.16 2.16m8.06 -2.16l2.16 2.16M558.69 581.03h5.90v5.90h-5.90zm0 5.90l-2.16 2.16m8.06 -2.16l2.16 2.16M574.81 581.03h5.90v5.90h-5.90zm0 5.90l-2.16 2.16m8.06 -2.16l2.16 2.16M590.93 581.03h5.90v5.90h-5.90zm0 5.90l-2.16 2.16m8.06 -2.16l2.16 2.16M607.05 581.03h5.90v5.90h-5.90zm0 5.90l-2.16 2.16m8.06 -2.16l2.16 2.16M623.17 581.03h5.90v5.90h-5.90zm0 5.90l-2.16 2.16m8.06 -2.16l2.16 2.16M639.29 581.03h5.90v5.90h-5.90zm0 5.90l-2.16 2.16m8.06 -2.16l2.16 2.16M655.41 581.03h5.90v5.90h-5.90zm0 5.90l-2.16 2.16m8.06 -2.16l2.16 2.16M671.53 581.03h5.90v5.90h-5.90zm0 5.90l-2.16 2.16m8.06 -2.16l2.16 2.16M687.65 581.03h5.90v5.90h-5.90zm0 5.90l-2.16 2.16m8.06 -2.16l2.16 2.16M703.77 581.03h5.90v5.90h-5.90zm0 5.90l-2.16 2.16m8.06 -2.16l2.16 2.16M719.89 581.03h5.90v5.90h-5.90zm0 5.90l-2.16 2.16m8.06 -2.16l2.16 2.16M736.01 581.03h5.90v5.90h-5.90zm0 5.90l-2.16 2.16m8.06 -2.16l2.16 2.16M389.43 589.09h5.90v5.90h-5.90zm0 5.90l-2.16 2.16m8.06 -2.16l2.16 2.16M405.55 589.09h5.90v5.90h-5.90zm0 5.90l-2.16 2.16m8.06 -2.16l2.16 2.16M421.67 589.09h5.90v5.90h-5.90zm0 5.90l-2.16 2.16m8.06 -2.16l2.16 2.16M437.79 589.09h5.90v5.90h-5.90zm0 5.90l-2.16 2.16m8.06 -2.16l2.16 2.16M453.91 589.09h5.90v5.90h-5.90zm0 5.90l-2.16 2.16m8.06 -2.16l2.16 2.16M470.03 589.09h5.90v5.90h-5.90zm0 5.90l-2.16 2.16m8.06 -2.16l2.16 2.16M486.15 589.09h5.90v5.90h-5.90zm0 5.90l-2.16 2.16m8.06 -2.16l2.16 2.16M502.27 589.09h5.90v5.90h-5.90zm0 5.90l-2.16 2.16m8.06 -2.16l2.16 2.16M518.39 589.09h5.90v5.90h-5.90zm0 5.90l-2.16 2.16m8.06 -2.16l2.16 2.16M534.51 589.09h5.90v5.90h-5.90zm0 5.90l-2.16 2.16m8.06 -2.16l2.16 2.16M550.63 589.09h5.90v5.90h-5.90zm0 5.90l-2.16 2.16m8.06 -2.16l2.16 2.16M566.75 589.09h5.90v5.90h-5.90zm0 5.90l-2.16 2.16m8.06 -2.16l2.16 2.16M582.87 589.09h5.90v5.90h-5.90zm0 5.90l-2.16 2.16m8.06 -2.16l2.16 2.16M598.99 589.09h5.90v5.90h-5.90zm0 5.90l-2.16 2.16m8.06 -2.16l2.16 2.16M615.11 589.09h5.90v5.90h-5.90zm0 5.90l-2.16 2.16m8.06 -2.16l2.16 2.16M631.23 589.09h5.90v5.90h-5.90zm0 5.90l-2.16 2.16m8.06 -2.16l2.16 2.16M647.35 589.09h5.90v5.90h-5.90zm0 5.90l-2.16 2.16m8.06 -2.16l2.16 2.16M663.47 589.09h5.90v5.90h-5.90zm0 5.90l-2.16 2.16m8.06 -2.16l2.16 2.16M679.59 589.09h5.90v5.90h-5.90zm0 5.90l-2.16 2.16m8.06 -2.16l2.16 2.16M695.71 589.09h5.90v5.90h-5.90zm0 5.90l-2.16 2.16m8.06 -2.16l2.16 2.16M711.83 589.09h5.90v5.90h-5.90zm0 5.90l-2.16 2.16m8.06 -2.16l2.16 2.16M727.95 589.09h5.90v5.90h-5.90zm0 5.90l-2.16 2.16m8.06 -2.16l2.16 2.16M744.07 589.09h5.90v5.90h-5.90zm0 5.90l-2.16 2.16m8.06 -2.16l2.16 2.16M381.37 597.15h5.90v5.90h-5.90zm0 5.90l-2.16 2.16m8.06 -2.16l2.16 2.16M397.49 597.15h5.90v5.90h-5.90zm0 5.90l-2.16 2.16m8.06 -2.16l2.16 2.16M413.61 597.15h5.90v5.90h-5.90zm0 5.90l-2.16 2.16m8.06 -2.16l2.16 2.16M429.73 597.15h5.90v5.90h-5.90zm0 5.90l-2.16 2.16m8.06 -2.16l2.16 2.16M445.85 597.15h5.90v5.90h-5.90zm0 5.90l-2.16 2.16m8.06 -2.16l2.16 2.16M461.97 597.15h5.90v5.90h-5.90zm0 5.90l-2.16 2.16m8.06 -2.16l2.16 2.16M478.09 597.15h5.90v5.90h-5.90zm0 5.90l-2.16 2.16m8.06 -2.16l2.16 2.16M494.21 597.15h5.90v5.90h-5.90zm0 5.90l-2.16 2.16m8.06 -2.16l2.16 2.16M510.33 597.15h5.90v5.90h-5.90zm0 5.90l-2.16 2.16m8.06 -2.16l2.16 2.16M526.45 597.15h5.90v5.90h-5.90zm0 5.90l-2.16 2.16m8.06 -2.16l2.16 2.16M542.57 597.15h5.90v5.90h-5.90zm0 5.90l-2.16 2.16m8.06 -2.16l2.16 2.16M558.69 597.15h5.90v5.90h-5.90zm0 5.90l-2.16 2.16m8.06 -2.16l2.16 2.16M574.81 597.15h5.90v5.90h-5.90zm0 5.90l-2.16 2.16m8.06 -2.16l2.16 2.16M590.93 597.15h5.90v5.90h-5.90zm0 5.90l-2.16 2.16m8.06 -2.16l2.16 2.16M607.05 597.15h5.90v5.90h-5.90zm0 5.90l-2.16 2.16m8.06 -2.16l2.16 2.16M623.17 597.15h5.90v5.90h-5.90zm0 5.90l-2.16 2.16m8.06 -2.16l2.16 2.16M639.29 597.15h5.90v5.90h-5.90zm0 5.90l-2.16 2.16m8.06 -2.16l2.16 2.16M655.41 597.15h5.90v5.90h-5.90zm0 5.90l-2.16 2.16m8.06 -2.16l2.16 2.16M671.53 597.15h5.90v5.90h-5.90zm0 5.90l-2.16 2.16m8.06 -2.16l2.16 2.16M687.65 597.15h5.90v5.90h-5.90zm0 5.90l-2.16 2.16m8.06 -2.16l2.16 2.16M703.77 597.15h5.90v5.90h-5.90zm0 5.90l-2.16 2.16m8.06 -2.16l2.16 2.16M719.89 597.15h5.90v5.90h-5.90zm0 5.90l-2.16 2.16m8.06 -2.16l2.16 2.16M736.01 597.15h5.90v5.90h-5.90zm0 5.90l-2.16 2.16m8.06 -2.16l2.16 2.16M389.43 605.21h5.90v5.90h-5.90zm0 5.90l-2.16 2.16m8.06 -2.16l2.16 2.16M405.55 605.21h5.90v5.90h-5.90zm0 5.90l-2.16 2.16m8.06 -2.16l2.16 2.16M421.67 605.21h5.90v5.90h-5.90zm0 5.90l-2.16 2.16m8.06 -2.16l2.16 2.16M437.79 605.21h5.90v5.90h-5.90zm0 5.90l-2.16 2.16m8.06 -2.16l2.16 2.16M453.91 605.21h5.90v5.90h-5.90zm0 5.90l-2.16 2.16m8.06 -2.16l2.16 2.16M470.03 605.21h5.90v5.90h-5.90zm0 5.90l-2.16 2.16m8.06 -2.16l2.16 2.16M486.15 605.21h5.90v5.90h-5.90zm0 5.90l-2.16 2.16m8.06 -2.16l2.16 2.16M502.27 605.21h5.90v5.90h-5.90zm0 5.90l-2.16 2.16m8.06 -2.16l2.16 2.16M518.39 605.21h5.90v5.90h-5.90zm0 5.90l-2.16 2.16m8.06 -2.16l2.16 2.16M534.51 605.21h5.90v5.90h-5.90zm0 5.90l-2.16 2.16m8.06 -2.16l2.16 2.16M550.63 605.21h5.90v5.90h-5.90zm0 5.90l-2.16 2.16m8.06 -2.16l2.16 2.16M566.75 605.21h5.90v5.90h-5.90zm0 5.90l-2.16 2.16m8.06 -2.16l2.16 2.16M582.87 605.21h5.90v5.90h-5.90zm0 5.90l-2.16 2.16m8.06 -2.16l2.16 2.16M598.99 605.21h5.90v5.90h-5.90zm0 5.90l-2.16 2.16m8.06 -2.16l2.16 2.16M615.11 605.21h5.90v5.90h-5.90zm0 5.90l-2.16 2.16m8.06 -2.16l2.16 2.16M631.23 605.21h5.90v5.90h-5.90zm0 5.90l-2.16 2.16m8.06 -2.16l2.16 2.16M647.35 605.21h5.90v5.90h-5.90zm0 5.90l-2.16 2.16m8.06 -2.16l2.16 2.16M663.47 605.21h5.90v5.90h-5.90zm0 5.90l-2.16 2.16m8.06 -2.16l2.16 2.16M679.59 605.21h5.90v5.90h-5.90zm0 5.90l-2.16 2.16m8.06 -2.16l2.16 2.16M695.71 605.21h5.90v5.90h-5.90zm0 5.90l-2.16 2.16m8.06 -2.16l2.16 2.16M711.83 605.21h5.90v5.90h-5.90zm0 5.90l-2.16 2.16m8.06 -2.16l2.16 2.16M727.95 605.21h5.90v5.90h-5.90zm0 5.90l-2.16 2.16m8.06 -2.16l2.16 2.16M744.07 605.21h5.90v5.90h-5.90zm0 5.90l-2.16 2.16m8.06 -2.16l2.16 2.16M381.37 613.27h5.90v5.90h-5.90zm0 5.90l-2.16 2.16m8.06 -2.16l2.16 2.16M397.49 613.27h5.90v5.90h-5.90zm0 5.90l-2.16 2.16m8.06 -2.16l2.16 2.16M413.61 613.27h5.90v5.90h-5.90zm0 5.90l-2.16 2.16m8.06 -2.16l2.16 2.16M429.73 613.27h5.90v5.90h-5.90zm0 5.90l-2.16 2.16m8.06 -2.16l2.16 2.16M445.85 613.27h5.90v5.90h-5.90zm0 5.90l-2.16 2.16m8.06 -2.16l2.16 2.16M461.97 613.27h5.90v5.90h-5.90zm0 5.90l-2.16 2.16m8.06 -2.16l2.16 2.16M478.09 613.27h5.90v5.90h-5.90zm0 5.90l-2.16 2.16m8.06 -2.16l2.16 2.16M494.21 613.27h5.90v5.90h-5.90zm0 5.90l-2.16 2.16m8.06 -2.16l2.16 2.16M510.33 613.27h5.90v5.90h-5.90zm0 5.90l-2.16 2.16m8.06 -2.16l2.16 2.16M526.45 613.27h5.90v5.90h-5.90zm0 5.90l-2.16 2.16m8.06 -2.16l2.16 2.16M542.57 613.27h5.90v5.90h-5.90zm0 5.90l-2.16 2.16m8.06 -2.16l2.16 2.16M558.69 613.27h5.90v5.90h-5.90zm0 5.90l-2.16 2.16m8.06 -2.16l2.16 2.16M574.81 613.27h5.90v5.90h-5.90zm0 5.90l-2.16 2.16m8.06 -2.16l2.16 2.16M590.93 613.27h5.90v5.90h-5.90zm0 5.90l-2.16 2.16m8.06 -2.16l2.16 2.16M607.05 613.27h5.90v5.90h-5.90zm0 5.90l-2.16 2.16m8.06 -2.16l2.16 2.16M623.17 613.27h5.90v5.90h-5.90zm0 5.90l-2.16 2.16m8.06 -2.16l2.16 2.16M639.29 613.27h5.90v5.90h-5.90zm0 5.90l-2.16 2.16m8.06 -2.16l2.16 2.16M655.41 613.27h5.90v5.90h-5.90zm0 5.90l-2.16 2.16m8.06 -2.16l2.16 2.16M671.53 613.27h5.90v5.90h-5.90zm0 5.90l-2.16 2.16m8.06 -2.16l2.16 2.16M687.65 613.27h5.90v5.90h-5.90zm0 5.90l-2.16 2.16m8.06 -2.16l2.16 2.16M703.77 613.27h5.90v5.90h-5.90zm0 5.90l-2.16 2.16m8.06 -2.16l2.16 2.16M719.89 613.27h5.90v5.90h-5.90zm0 5.90l-2.16 2.16m8.06 -2.16l2.16 2.16M736.01 613.27h5.90v5.90h-5.90zm0 5.90l-2.16 2.16m8.06 -2.16l2.16 2.16M389.43 621.33h5.90v5.90h-5.90zm0 5.90l-2.16 2.16m8.06 -2.16l2.16 2.16M405.55 621.33h5.90v5.90h-5.90zm0 5.90l-2.16 2.16m8.06 -2.16l2.16 2.16M421.67 621.33h5.90v5.90h-5.90zm0 5.90l-2.16 2.16m8.06 -2.16l2.16 2.16M437.79 621.33h5.90v5.90h-5.90zm0 5.90l-2.16 2.16m8.06 -2.16l2.16 2.16M453.91 621.33h5.90v5.90h-5.90zm0 5.90l-2.16 2.16m8.06 -2.16l2.16 2.16M470.03 621.33h5.90v5.90h-5.90zm0 5.90l-2.16 2.16m8.06 -2.16l2.16 2.16M486.15 621.33h5.90v5.90h-5.90zm0 5.90l-2.16 2.16m8.06 -2.16l2.16 2.16M502.27 621.33h5.90v5.90h-5.90zm0 5.90l-2.16 2.16m8.06 -2.16l2.16 2.16M518.39 621.33h5.90v5.90h-5.90zm0 5.90l-2.16 2.16m8.06 -2.16l2.16 2.16M534.51 621.33h5.90v5.90h-5.90zm0 5.90l-2.16 2.16m8.06 -2.16l2.16 2.16M550.63 621.33h5.90v5.90h-5.90zm0 5.90l-2.16 2.16m8.06 -2.16l2.16 2.16M566.75 621.33h5.90v5.90h-5.90zm0 5.90l-2.16 2.16m8.06 -2.16l2.16 2.16M582.87 621.33h5.90v5.90h-5.90zm0 5.90l-2.16 2.16m8.06 -2.16l2.16 2.16M598.99 621.33h5.90v5.90h-5.90zm0 5.90l-2.16 2.16m8.06 -2.16l2.16 2.16M615.11 621.33h5.90v5.90h-5.90zm0 5.90l-2.16 2.16m8.06 -2.16l2.16 2.16M631.23 621.33h5.90v5.90h-5.90zm0 5.90l-2.16 2.16m8.06 -2.16l2.16 2.16M647.35 621.33h5.90v5.90h-5.90zm0 5.90l-2.16 2.16m8.06 -2.16l2.16 2.16M663.47 621.33h5.90v5.90h-5.90zm0 5.90l-2.16 2.16m8.06 -2.16l2.16 2.16M679.59 621.33h5.90v5.90h-5.90zm0 5.90l-2.16 2.16m8.06 -2.16l2.16 2.16M695.71 621.33h5.90v5.90h-5.90zm0 5.90l-2.16 2.16m8.06 -2.16l2.16 2.16M711.83 621.33h5.90v5.90h-5.90zm0 5.90l-2.16 2.16m8.06 -2.16l2.16 2.16M727.95 621.33h5.90v5.90h-5.90zm0 5.90l-2.16 2.16m8.06 -2.16l2.16 2.16M744.07 621.33h5.90v5.90h-5.90zm0 5.90l-2.16 2.16m8.06 -2.16l2.16 2.16M381.37 629.39h5.90v5.90h-5.90zm0 5.90l-2.16 2.16m8.06 -2.16l2.16 2.16M397.49 629.39h5.90v5.90h-5.90zm0 5.90l-2.16 2.16m8.06 -2.16l2.16 2.16M413.61 629.39h5.90v5.90h-5.90zm0 5.90l-2.16 2.16m8.06 -2.16l2.16 2.16M429.73 629.39h5.90v5.90h-5.90zm0 5.90l-2.16 2.16m8.06 -2.16l2.16 2.16M445.85 629.39h5.90v5.90h-5.90zm0 5.90l-2.16 2.16m8.06 -2.16l2.16 2.16M461.97 629.39h5.90v5.90h-5.90zm0 5.90l-2.16 2.16m8.06 -2.16l2.16 2.16M478.09 629.39h5.90v5.90h-5.90zm0 5.90l-2.16 2.16m8.06 -2.16l2.16 2.16M494.21 629.39h5.90v5.90h-5.90zm0 5.90l-2.16 2.16m8.06 -2.16l2.16 2.16M510.33 629.39h5.90v5.90h-5.90zm0 5.90l-2.16 2.16m8.06 -2.16l2.16 2.16M526.45 629.39h5.90v5.90h-5.90zm0 5.90l-2.16 2.16m8.06 -2.16l2.16 2.16M542.57 629.39h5.90v5.90h-5.90zm0 5.90l-2.16 2.16m8.06 -2.16l2.16 2.16M558.69 629.39h5.90v5.90h-5.90zm0 5.90l-2.16 2.16m8.06 -2.16l2.16 2.16M574.81 629.39h5.90v5.90h-5.90zm0 5.90l-2.16 2.16m8.06 -2.16l2.16 2.16M590.93 629.39h5.90v5.90h-5.90zm0 5.90l-2.16 2.16m8.06 -2.16l2.16 2.16M607.05 629.39h5.90v5.90h-5.90zm0 5.90l-2.16 2.16m8.06 -2.16l2.16 2.16M623.17 629.39h5.90v5.90h-5.90zm0 5.90l-2.16 2.16m8.06 -2.16l2.16 2.16M639.29 629.39h5.90v5.90h-5.90zm0 5.90l-2.16 2.16m8.06 -2.16l2.16 2.16M655.41 629.39h5.90v5.90h-5.90zm0 5.90l-2.16 2.16m8.06 -2.16l2.16 2.16M671.53 629.39h5.90v5.90h-5.90zm0 5.90l-2.16 2.16m8.06 -2.16l2.16 2.16M687.65 629.39h5.90v5.90h-5.90zm0 5.90l-2.16 2.16m8.06 -2.16l2.16 2.16M703.77 629.39h5.90v5.90h-5.90zm0 5.90l-2.16 2.16m8.06 -2.16l2.16 2.16M719.89 629.39h5.90v5.90h-5.90zm0 5.90l-2.16 2.16m8.06 -2.16l2.16 2.16M736.01 629.39h5.90v5.90h-5.90zm0 5.90l-2.16 2.16m8.06 -2.16l2.16 2.16M389.43 637.45h5.90v5.90h-5.90zm0 5.90l-2.16 2.16m8.06 -2.16l2.16 2.16M405.55 637.45h5.90v5.90h-5.90zm0 5.90l-2.16 2.16m8.06 -2.16l2.16 2.16M421.67 637.45h5.90v5.90h-5.90zm0 5.90l-2.16 2.16m8.06 -2.16l2.16 2.16M437.79 637.45h5.90v5.90h-5.90zm0 5.90l-2.16 2.16m8.06 -2.16l2.16 2.16M453.91 637.45h5.90v5.90h-5.90zm0 5.90l-2.16 2.16m8.06 -2.16l2.16 2.16M470.03 637.45h5.90v5.90h-5.90zm0 5.90l-2.16 2.16m8.06 -2.16l2.16 2.16M486.15 637.45h5.90v5.90h-5.90zm0 5.90l-2.16 2.16m8.06 -2.16l2.16 2.16M502.27 637.45h5.90v5.90h-5.90zm0 5.90l-2.16 2.16m8.06 -2.16l2.16 2.16M518.39 637.45h5.90v5.90h-5.90zm0 5.90l-2.16 2.16m8.06 -2.16l2.16 2.16M534.51 637.45h5.90v5.90h-5.90zm0 5.90l-2.16 2.16m8.06 -2.16l2.16 2.16M550.63 637.45h5.90v5.90h-5.90zm0 5.90l-2.16 2.16m8.06 -2.16l2.16 2.16M566.75 637.45h5.90v5.90h-5.90zm0 5.90l-2.16 2.16m8.06 -2.16l2.16 2.16M582.87 637.45h5.90v5.90h-5.90zm0 5.90l-2.16 2.16m8.06 -2.16l2.16 2.16M598.99 637.45h5.90v5.90h-5.90zm0 5.90l-2.16 2.16m8.06 -2.16l2.16 2.16M615.11 637.45h5.90v5.90h-5.90zm0 5.90l-2.16 2.16m8.06 -2.16l2.16 2.16M631.23 637.45h5.90v5.90h-5.90zm0 5.90l-2.16 2.16m8.06 -2.16l2.16 2.16M647.35 637.45h5.90v5.90h-5.90zm0 5.90l-2.16 2.16m8.06 -2.16l2.16 2.16M663.47 637.45h5.90v5.90h-5.90zm0 5.90l-2.16 2.16m8.06 -2.16l2.16 2.16M679.59 637.45h5.90v5.90h-5.90zm0 5.90l-2.16 2.16m8.06 -2.16l2.16 2.16M695.71 637.45h5.90v5.90h-5.90zm0 5.90l-2.16 2.16m8.06 -2.16l2.16 2.16M711.83 637.45h5.90v5.90h-5.90zm0 5.90l-2.16 2.16m8.06 -2.16l2.16 2.16M727.95 637.45h5.90v5.90h-5.90zm0 5.90l-2.16 2.16m8.06 -2.16l2.16 2.16M744.07 637.45h5.90v5.90h-5.90zm0 5.90l-2.16 2.16m8.06 -2.16l2.16 2.16M381.37 645.51h5.90v5.90h-5.90zm0 5.90l-2.16 2.16m8.06 -2.16l2.16 2.16M397.49 645.51h5.90v5.90h-5.90zm0 5.90l-2.16 2.16m8.06 -2.16l2.16 2.16M413.61 645.51h5.90v5.90h-5.90zm0 5.90l-2.16 2.16m8.06 -2.16l2.16 2.16M429.73 645.51h5.90v5.90h-5.90zm0 5.90l-2.16 2.16m8.06 -2.16l2.16 2.16M445.85 645.51h5.90v5.90h-5.90zm0 5.90l-2.16 2.16m8.06 -2.16l2.16 2.16M461.97 645.51h5.90v5.90h-5.90zm0 5.90l-2.16 2.16m8.06 -2.16l2.16 2.16M478.09 645.51h5.90v5.90h-5.90zm0 5.90l-2.16 2.16m8.06 -2.16l2.16 2.16M494.21 645.51h5.90v5.90h-5.90zm0 5.90l-2.16 2.16m8.06 -2.16l2.16 2.16M510.33 645.51h5.90v5.90h-5.90zm0 5.90l-2.16 2.16m8.06 -2.16l2.16 2.16M526.45 645.51h5.90v5.90h-5.90zm0 5.90l-2.16 2.16m8.06 -2.16l2.16 2.16M542.57 645.51h5.90v5.90h-5.90zm0 5.90l-2.16 2.16m8.06 -2.16l2.16 2.16M558.69 645.51h5.90v5.90h-5.90zm0 5.90l-2.16 2.16m8.06 -2.16l2.16 2.16M574.81 645.51h5.90v5.90h-5.90zm0 5.90l-2.16 2.16m8.06 -2.16l2.16 2.16M590.93 645.51h5.90v5.90h-5.90zm0 5.90l-2.16 2.16m8.06 -2.16l2.16 2.16M607.05 645.51h5.90v5.90h-5.90zm0 5.90l-2.16 2.16m8.06 -2.16l2.16 2.16M623.17 645.51h5.90v5.90h-5.90zm0 5.90l-2.16 2.16m8.06 -2.16l2.16 2.16M639.29 645.51h5.90v5.90h-5.90zm0 5.90l-2.16 2.16m8.06 -2.16l2.16 2.16M655.41 645.51h5.90v5.90h-5.90zm0 5.90l-2.16 2.16m8.06 -2.16l2.16 2.16M671.53 645.51h5.90v5.90h-5.90zm0 5.90l-2.16 2.16m8.06 -2.16l2.16 2.16M687.65 645.51h5.90v5.90h-5.90zm0 5.90l-2.16 2.16m8.06 -2.16l2.16 2.16M703.77 645.51h5.90v5.90h-5.90zm0 5.90l-2.16 2.16m8.06 -2.16l2.16 2.16M719.89 645.51h5.90v5.90h-5.90zm0 5.90l-2.16 2.16m8.06 -2.16l2.16 2.16M736.01 645.51h5.90v5.90h-5.90zm0 5.90l-2.16 2.16m8.06 -2.16l2.16 2.16M389.43 653.57h5.90v5.90h-5.90zm0 5.90l-2.16 2.16m8.06 -2.16l2.16 2.16M405.55 653.57h5.90v5.90h-5.90zm0 5.90l-2.16 2.16m8.06 -2.16l2.16 2.16M421.67 653.57h5.90v5.90h-5.90zm0 5.90l-2.16 2.16m8.06 -2.16l2.16 2.16M437.79 653.57h5.90v5.90h-5.90zm0 5.90l-2.16 2.16m8.06 -2.16l2.16 2.16M453.91 653.57h5.90v5.90h-5.90zm0 5.90l-2.16 2.16m8.06 -2.16l2.16 2.16M470.03 653.57h5.90v5.90h-5.90zm0 5.90l-2.16 2.16m8.06 -2.16l2.16 2.16M486.15 653.57h5.90v5.90h-5.90zm0 5.90l-2.16 2.16m8.06 -2.16l2.16 2.16M502.27 653.57h5.90v5.90h-5.90zm0 5.90l-2.16 2.16m8.06 -2.16l2.16 2.16M518.39 653.57h5.90v5.90h-5.90zm0 5.90l-2.16 2.16m8.06 -2.16l2.16 2.16M534.51 653.57h5.90v5.90h-5.90zm0 5.90l-2.16 2.16m8.06 -2.16l2.16 2.16M550.63 653.57h5.90v5.90h-5.90zm0 5.90l-2.16 2.16m8.06 -2.16l2.16 2.16M566.75 653.57h5.90v5.90h-5.90zm0 5.90l-2.16 2.16m8.06 -2.16l2.16 2.16M582.87 653.57h5.90v5.90h-5.90zm0 5.90l-2.16 2.16m8.06 -2.16l2.16 2.16M598.99 653.57h5.90v5.90h-5.90zm0 5.90l-2.16 2.16m8.06 -2.16l2.16 2.16M615.11 653.57h5.90v5.90h-5.90zm0 5.90l-2.16 2.16m8.06 -2.16l2.16 2.16M631.23 653.57h5.90v5.90h-5.90zm0 5.90l-2.16 2.16m8.06 -2.16l2.16 2.16M647.35 653.57h5.90v5.90h-5.90zm0 5.90l-2.16 2.16m8.06 -2.16l2.16 2.16M663.47 653.57h5.90v5.90h-5.90zm0 5.90l-2.16 2.16m8.06 -2.16l2.16 2.16M679.59 653.57h5.90v5.90h-5.90zm0 5.90l-2.16 2.16m8.06 -2.16l2.16 2.16M695.71 653.57h5.90v5.90h-5.90zm0 5.90l-2.16 2.16m8.06 -2.16l2.16 2.16M711.83 653.57h5.90v5.90h-5.90zm0 5.90l-2.16 2.16m8.06 -2.16l2.16 2.16M727.95 653.57h5.90v5.90h-5.90zm0 5.90l-2.16 2.16m8.06 -2.16l2.16 2.16M744.07 653.57h5.90v5.90h-5.90zm0 5.90l-2.16 2.16m8.06 -2.16l2.16 2.16M381.37 661.63h5.90v5.90h-5.90zm0 5.90l-2.16 2.16m8.06 -2.16l2.16 2.16M397.49 661.63h5.90v5.90h-5.90zm0 5.90l-2.16 2.16m8.06 -2.16l2.16 2.16M413.61 661.63h5.90v5.90h-5.90zm0 5.90l-2.16 2.16m8.06 -2.16l2.16 2.16M429.73 661.63h5.90v5.90h-5.90zm0 5.90l-2.16 2.16m8.06 -2.16l2.16 2.16M445.85 661.63h5.90v5.90h-5.90zm0 5.90l-2.16 2.16m8.06 -2.16l2.16 2.16M461.97 661.63h5.90v5.90h-5.90zm0 5.90l-2.16 2.16m8.06 -2.16l2.16 2.16M478.09 661.63h5.90v5.90h-5.90zm0 5.90l-2.16 2.16m8.06 -2.16l2.16 2.16M494.21 661.63h5.90v5.90h-5.90zm0 5.90l-2.16 2.16m8.06 -2.16l2.16 2.16M510.33 661.63h5.90v5.90h-5.90zm0 5.90l-2.16 2.16m8.06 -2.16l2.16 2.16M526.45 661.63h5.90v5.90h-5.90zm0 5.90l-2.16 2.16m8.06 -2.16l2.16 2.16M542.57 661.63h5.90v5.90h-5.90zm0 5.90l-2.16 2.16m8.06 -2.16l2.16 2.16M558.69 661.63h5.90v5.90h-5.90zm0 5.90l-2.16 2.16m8.06 -2.16l2.16 2.16M574.81 661.63h5.90v5.90h-5.90zm0 5.90l-2.16 2.16m8.06 -2.16l2.16 2.16M590.93 661.63h5.90v5.90h-5.90zm0 5.90l-2.16 2.16m8.06 -2.16l2.16 2.16M607.05 661.63h5.90v5.90h-5.90zm0 5.90l-2.16 2.16m8.06 -2.16l2.16 2.16M623.17 661.63h5.90v5.90h-5.90zm0 5.90l-2.16 2.16m8.06 -2.16l2.16 2.16M639.29 661.63h5.90v5.90h-5.90zm0 5.90l-2.16 2.16m8.06 -2.16l2.16 2.16M655.41 661.63h5.90v5.90h-5.90zm0 5.90l-2.16 2.16m8.06 -2.16l2.16 2.16M671.53 661.63h5.90v5.90h-5.90zm0 5.90l-2.16 2.16m8.06 -2.16l2.16 2.16M687.65 661.63h5.90v5.90h-5.90zm0 5.90l-2.16 2.16m8.06 -2.16l2.16 2.16M703.77 661.63h5.90v5.90h-5.90zm0 5.90l-2.16 2.16m8.06 -2.16l2.16 2.16M719.89 661.63h5.90v5.90h-5.90zm0 5.90l-2.16 2.16m8.06 -2.16l2.16 2.16M736.01 661.63h5.90v5.90h-5.90zm0 5.90l-2.16 2.16m8.06 -2.16l2.16 2.16M389.43 669.69h5.90v5.90h-5.90zm0 5.90l-2.16 2.16m8.06 -2.16l2.16 2.16M405.55 669.69h5.90v5.90h-5.90zm0 5.90l-2.16 2.16m8.06 -2.16l2.16 2.16M421.67 669.69h5.90v5.90h-5.90zm0 5.90l-2.16 2.16m8.06 -2.16l2.16 2.16M437.79 669.69h5.90v5.90h-5.90zm0 5.90l-2.16 2.16m8.06 -2.16l2.16 2.16M453.91 669.69h5.90v5.90h-5.90zm0 5.90l-2.16 2.16m8.06 -2.16l2.16 2.16M470.03 669.69h5.90v5.90h-5.90zm0 5.90l-2.16 2.16m8.06 -2.16l2.16 2.16M486.15 669.69h5.90v5.90h-5.90zm0 5.90l-2.16 2.16m8.06 -2.16l2.16 2.16M502.27 669.69h5.90v5.90h-5.90zm0 5.90l-2.16 2.16m8.06 -2.16l2.16 2.16M518.39 669.69h5.90v5.90h-5.90zm0 5.90l-2.16 2.16m8.06 -2.16l2.16 2.16M534.51 669.69h5.90v5.90h-5.90zm0 5.90l-2.16 2.16m8.06 -2.16l2.16 2.16M550.63 669.69h5.90v5.90h-5.90zm0 5.90l-2.16 2.16m8.06 -2.16l2.16 2.16M566.75 669.69h5.90v5.90h-5.90zm0 5.90l-2.16 2.16m8.06 -2.16l2.16 2.16M582.87 669.69h5.90v5.90h-5.90zm0 5.90l-2.16 2.16m8.06 -2.16l2.16 2.16M598.99 669.69h5.90v5.90h-5.90zm0 5.90l-2.16 2.16m8.06 -2.16l2.16 2.16M615.11 669.69h5.90v5.90h-5.90zm0 5.90l-2.16 2.16m8.06 -2.16l2.16 2.16M631.23 669.69h5.90v5.90h-5.90zm0 5.90l-2.16 2.16m8.06 -2.16l2.16 2.16M647.35 669.69h5.90v5.90h-5.90zm0 5.90l-2.16 2.16m8.06 -2.16l2.16 2.16M663.47 669.69h5.90v5.90h-5.90zm0 5.90l-2.16 2.16m8.06 -2.16l2.16 2.16M679.59 669.69h5.90v5.90h-5.90zm0 5.90l-2.16 2.16m8.06 -2.16l2.16 2.16M695.71 669.69h5.90v5.90h-5.90zm0 5.90l-2.16 2.16m8.06 -2.16l2.16 2.16M711.83 669.69h5.90v5.90h-5.90zm0 5.90l-2.16 2.16m8.06 -2.16l2.16 2.16M727.95 669.69h5.90v5.90h-5.90zm0 5.90l-2.16 2.16m8.06 -2.16l2.16 2.16M744.07 669.69h5.90v5.90h-5.90zm0 5.90l-2.16 2.16m8.06 -2.16l2.16 2.16M381.37 677.75h5.90v5.90h-5.90zm0 5.90l-2.16 2.16m8.06 -2.16l2.16 2.16M397.49 677.75h5.90v5.90h-5.90zm0 5.90l-2.16 2.16m8.06 -2.16l2.16 2.16M413.61 677.75h5.90v5.90h-5.90zm0 5.90l-2.16 2.16m8.06 -2.16l2.16 2.16M429.73 677.75h5.90v5.90h-5.90zm0 5.90l-2.16 2.16m8.06 -2.16l2.16 2.16M445.85 677.75h5.90v5.90h-5.90zm0 5.90l-2.16 2.16m8.06 -2.16l2.16 2.16M461.97 677.75h5.90v5.90h-5.90zm0 5.90l-2.16 2.16m8.06 -2.16l2.16 2.16M478.09 677.75h5.90v5.90h-5.90zm0 5.90l-2.16 2.16m8.06 -2.16l2.16 2.16M494.21 677.75h5.90v5.90h-5.90zm0 5.90l-2.16 2.16m8.06 -2.16l2.16 2.16M510.33 677.75h5.90v5.90h-5.90zm0 5.90l-2.16 2.16m8.06 -2.16l2.16 2.16M526.45 677.75h5.90v5.90h-5.90zm0 5.90l-2.16 2.16m8.06 -2.16l2.16 2.16M542.57 677.75h5.90v5.90h-5.90zm0 5.90l-2.16 2.16m8.06 -2.16l2.16 2.16M558.69 677.75h5.90v5.90h-5.90zm0 5.90l-2.16 2.16m8.06 -2.16l2.16 2.16M574.81 677.75h5.90v5.90h-5.90zm0 5.90l-2.16 2.16m8.06 -2.16l2.16 2.16M590.93 677.75h5.90v5.90h-5.90zm0 5.90l-2.16 2.16m8.06 -2.16l2.16 2.16M607.05 677.75h5.90v5.90h-5.90zm0 5.90l-2.16 2.16m8.06 -2.16l2.16 2.16M623.17 677.75h5.90v5.90h-5.90zm0 5.90l-2.16 2.16m8.06 -2.16l2.16 2.16M639.29 677.75h5.90v5.90h-5.90zm0 5.90l-2.16 2.16m8.06 -2.16l2.16 2.16M655.41 677.75h5.90v5.90h-5.90zm0 5.90l-2.16 2.16m8.06 -2.16l2.16 2.16M671.53 677.75h5.90v5.90h-5.90zm0 5.90l-2.16 2.16m8.06 -2.16l2.16 2.16M687.65 677.75h5.90v5.90h-5.90zm0 5.90l-2.16 2.16m8.06 -2.16l2.16 2.16M703.77 677.75h5.90v5.90h-5.90zm0 5.90l-2.16 2.16m8.06 -2.16l2.16 2.16M719.89 677.75h5.90v5.90h-5.90zm0 5.90l-2.16 2.16m8.06 -2.16l2.16 2.16M736.01 677.75h5.90v5.90h-5.90zm0 5.90l-2.16 2.16m8.06 -2.16l2.16 2.16M389.43 685.81h5.90v5.90h-5.90zm0 5.90l-2.16 2.16m8.06 -2.16l2.16 2.16M405.55 685.81h5.90v5.90h-5.90zm0 5.90l-2.16 2.16m8.06 -2.16l2.16 2.16M421.67 685.81h5.90v5.90h-5.90zm0 5.90l-2.16 2.16m8.06 -2.16l2.16 2.16M437.79 685.81h5.90v5.90h-5.90zm0 5.90l-2.16 2.16m8.06 -2.16l2.16 2.16M453.91 685.81h5.90v5.90h-5.90zm0 5.90l-2.16 2.16m8.06 -2.16l2.16 2.16M470.03 685.81h5.90v5.90h-5.90zm0 5.90l-2.16 2.16m8.06 -2.16l2.16 2.16M486.15 685.81h5.90v5.90h-5.90zm0 5.90l-2.16 2.16m8.06 -2.16l2.16 2.16M502.27 685.81h5.90v5.90h-5.90zm0 5.90l-2.16 2.16m8.06 -2.16l2.16 2.16M518.39 685.81h5.90v5.90h-5.90zm0 5.90l-2.16 2.16m8.06 -2.16l2.16 2.16M534.51 685.81h5.90v5.90h-5.90zm0 5.90l-2.16 2.16m8.06 -2.16l2.16 2.16M550.63 685.81h5.90v5.90h-5.90zm0 5.90l-2.16 2.16m8.06 -2.16l2.16 2.16M566.75 685.81h5.90v5.90h-5.90zm0 5.90l-2.16 2.16m8.06 -2.16l2.16 2.16M582.87 685.81h5.90v5.90h-5.90zm0 5.90l-2.16 2.16m8.06 -2.16l2.16 2.16M598.99 685.81h5.90v5.90h-5.90zm0 5.90l-2.16 2.16m8.06 -2.16l2.16 2.16M615.11 685.81h5.90v5.90h-5.90zm0 5.90l-2.16 2.16m8.06 -2.16l2.16 2.16M631.23 685.81h5.90v5.90h-5.90zm0 5.90l-2.16 2.16m8.06 -2.16l2.16 2.16M647.35 685.81h5.90v5.90h-5.90zm0 5.90l-2.16 2.16m8.06 -2.16l2.16 2.16M663.47 685.81h5.90v5.90h-5.90zm0 5.90l-2.16 2.16m8.06 -2.16l2.16 2.16M679.59 685.81h5.90v5.90h-5.90zm0 5.90l-2.16 2.16m8.06 -2.16l2.16 2.16M695.71 685.81h5.90v5.90h-5.90zm0 5.90l-2.16 2.16m8.06 -2.16l2.16 2.16M711.83 685.81h5.90v5.90h-5.90zm0 5.90l-2.16 2.16m8.06 -2.16l2.16 2.16M727.95 685.81h5.90v5.90h-5.90zm0 5.90l-2.16 2.16m8.06 -2.16l2.16 2.16M744.07 685.81h5.90v5.90h-5.90zm0 5.90l-2.16 2.16m8.06 -2.16l2.16 2.16M381.37 693.87h5.90v5.90h-5.90zm0 5.90l-2.16 2.16m8.06 -2.16l2.16 2.16M397.49 693.87h5.90v5.90h-5.90zm0 5.90l-2.16 2.16m8.06 -2.16l2.16 2.16M413.61 693.87h5.90v5.90h-5.90zm0 5.90l-2.16 2.16m8.06 -2.16l2.16 2.16M429.73 693.87h5.90v5.90h-5.90zm0 5.90l-2.16 2.16m8.06 -2.16l2.16 2.16M445.85 693.87h5.90v5.90h-5.90zm0 5.90l-2.16 2.16m8.06 -2.16l2.16 2.16M461.97 693.87h5.90v5.90h-5.90zm0 5.90l-2.16 2.16m8.06 -2.16l2.16 2.16M478.09 693.87h5.90v5.90h-5.90zm0 5.90l-2.16 2.16m8.06 -2.16l2.16 2.16M494.21 693.87h5.90v5.90h-5.90zm0 5.90l-2.16 2.16m8.06 -2.16l2.16 2.16M510.33 693.87h5.90v5.90h-5.90zm0 5.90l-2.16 2.16m8.06 -2.16l2.16 2.16M526.45 693.87h5.90v5.90h-5.90zm0 5.90l-2.16 2.16m8.06 -2.16l2.16 2.16M542.57 693.87h5.90v5.90h-5.90zm0 5.90l-2.16 2.16m8.06 -2.16l2.16 2.16M558.69 693.87h5.90v5.90h-5.90zm0 5.90l-2.16 2.16m8.06 -2.16l2.16 2.16M574.81 693.87h5.90v5.90h-5.90zm0 5.90l-2.16 2.16m8.06 -2.16l2.16 2.16M590.93 693.87h5.90v5.90h-5.90zm0 5.90l-2.16 2.16m8.06 -2.16l2.16 2.16M607.05 693.87h5.90v5.90h-5.90zm0 5.90l-2.16 2.16m8.06 -2.16l2.16 2.16M623.17 693.87h5.90v5.90h-5.90zm0 5.90l-2.16 2.16m8.06 -2.16l2.16 2.16M639.29 693.87h5.90v5.90h-5.90zm0 5.90l-2.16 2.16m8.06 -2.16l2.16 2.16M655.41 693.87h5.90v5.90h-5.90zm0 5.90l-2.16 2.16m8.06 -2.16l2.16 2.16M671.53 693.87h5.90v5.90h-5.90zm0 5.90l-2.16 2.16m8.06 -2.16l2.16 2.16M687.65 693.87h5.90v5.90h-5.90zm0 5.90l-2.16 2.16m8.06 -2.16l2.16 2.16M703.77 693.87h5.90v5.90h-5.90zm0 5.90l-2.16 2.16m8.06 -2.16l2.16 2.16M719.89 693.87h5.90v5.90h-5.90zm0 5.90l-2.16 2.16m8.06 -2.16l2.16 2.16M736.01 693.87h5.90v5.90h-5.90zm0 5.90l-2.16 2.16m8.06 -2.16l2.16 2.16"/>
<rect x="37.50" y="42.00" width="500.50" height="7.25" fill="#fff" stroke="#fff" stroke-width="1.8" stroke-opacity=".9" />
<rect x="37.50" y="42.00" width="7.10" height="53.00" fill="#fff" stroke="#fff" stroke-width="1.8" stroke-opacity=".9" />
<polygon points="37.50,92.50 44.60,94.80 22.30,158.00 14.80,158.00 14.80,156.50" fill="#fff" stroke="#fff" stroke-width="1.8" stroke-opacity=".9" />
<rect x="14.80" y="157.00" width="7.50" height="242.00" fill="#fff" stroke="#fff" stroke-width="1.8" stroke-opacity=".9" />
<polygon points="14.80,399.70 14.80,396.00 22.30,395.60 50.40,424.00 50.40,428.00 43.30,427.60" fill="#fff" stroke="#fff" stroke-width="1.8" stroke-opacity=".9" />
<rect x="43.30" y="426.00" width="7.10" height="34.00" fill="#fff" stroke="#fff" stroke-width="1.8" stroke-opacity=".9" />
<rect x="43.30" y="452.80" width="86.70" height="7.20" fill="#fff" stroke="#fff" stroke-width="1.8" stroke-opacity=".9" />
<rect x="123.30" y="452.80" width="6.70" height="22.50" fill="#fff" stroke="#fff" stroke-width="1.8" stroke-opacity=".9" />
<rect x="123.30" y="468.40" width="621.70" height="6.90" fill="#fff" stroke="#fff" stroke-width="1.8" stroke-opacity=".9" />
<rect x="250.00" y="49.00" width="7.50" height="69.00" fill="#fff" stroke="#fff" stroke-width="1.8" stroke-opacity=".9" />
<rect x="250.00" y="236.75" width="7.50" height="232.25" fill="#fff" stroke="#fff" stroke-width="1.8" stroke-opacity=".9" />
<rect x="257.00" y="264.50" width="143.00" height="7.50" fill="#fff" stroke="#fff" stroke-width="1.8" stroke-opacity=".9" />
<rect x="393.00" y="264.50" width="7.00" height="52.25" fill="#fff" stroke="#fff" stroke-width="1.8" stroke-opacity=".9" />
<rect x="419.25" y="428.25" width="38.25" height="40.75" fill="#fff" stroke="#fff" stroke-width="1.8" stroke-opacity=".9" />
<rect x="450.50" y="475.00" width="7.00" height="43.25" fill="#fff" stroke="#fff" stroke-width="1.8" stroke-opacity=".9" />
<rect x="388.00" y="475.00" width="7.00" height="215.00" fill="#fff" stroke="#fff" stroke-width="1.8" stroke-opacity=".9" />
<rect x="388.00" y="683.00" width="8.00" height="7.00" fill="#fff" stroke="#fff" stroke-width="1.8" stroke-opacity=".9" />
<rect x="732.50" y="683.00" width="12.50" height="7.00" fill="#fff" stroke="#fff" stroke-width="1.8" stroke-opacity=".9" />
<rect x="537.50" y="15.00" width="7.10" height="237.50" fill="#fff" stroke="#fff" stroke-width="1.8" stroke-opacity=".9" />
<rect x="537.50" y="15.00" width="386.10" height="6.90" fill="#fff" stroke="#fff" stroke-width="1.8" stroke-opacity=".9" />
<rect x="662.50" y="21.00" width="7.10" height="231.50" fill="#fff" stroke="#fff" stroke-width="1.8" stroke-opacity=".9" />
<rect x="630.50" y="108.75" width="39.10" height="52.75" fill="#fff" stroke="#fff" stroke-width="1.8" stroke-opacity=".9" />
<rect x="544.00" y="161.25" width="119.00" height="6.35" fill="#fff" stroke="#fff" stroke-width="1.8" stroke-opacity=".9" />
<rect x="537.50" y="245.50" width="406.80" height="7.10" fill="#fff" stroke="#fff" stroke-width="1.8" stroke-opacity=".9" />
<rect x="916.50" y="15.00" width="7.10" height="35.00" fill="#fff" stroke="#fff" stroke-width="1.8" stroke-opacity=".9" />
<polygon points="916.50,49.00 923.60,47.00 939.30,110.00 939.30,113.50 932.00,113.50" fill="#fff" stroke="#fff" stroke-width="1.8" stroke-opacity=".9" />
<rect x="932.00" y="113.00" width="7.30" height="43.00" fill="#fff" stroke="#fff" stroke-width="1.8" stroke-opacity=".9" />
<polygon points="932.00,154.00 939.30,156.50 918.30,216.00 911.30,218.00 911.30,215.00" fill="#fff" stroke="#fff" stroke-width="1.8" stroke-opacity=".9" />
<rect x="911.30" y="215.00" width="7.00" height="31.00" fill="#fff" stroke="#fff" stroke-width="1.8" stroke-opacity=".9" />
<rect x="937.20" y="245.50" width="7.10" height="40.80" fill="#fff" stroke="#fff" stroke-width="1.8" stroke-opacity=".9" />
<rect x="937.20" y="279.50" width="24.10" height="6.80" fill="#fff" stroke="#fff" stroke-width="1.8" stroke-opacity=".9" />
<rect x="954.40" y="279.50" width="6.90" height="410.50" fill="#fff" stroke="#fff" stroke-width="1.8" stroke-opacity=".9" />
<rect x="738.00" y="252.00" width="7.00" height="438.00" fill="#fff" stroke="#fff" stroke-width="1.8" stroke-opacity=".9" />
<rect x="614.25" y="313.00" width="124.25" height="7.00" fill="#fff" stroke="#fff" stroke-width="1.8" stroke-opacity=".9" />
<rect x="614.25" y="313.00" width="38.25" height="35.25" fill="#fff" stroke="#fff" stroke-width="1.8" stroke-opacity=".9" />
<rect x="645.70" y="313.00" width="6.80" height="156.00" fill="#fff" stroke="#fff" stroke-width="1.8" stroke-opacity=".9" />
<rect x="744.50" y="436.75" width="142.00" height="7.25" fill="#fff" stroke="#fff" stroke-width="1.8" stroke-opacity=".9" />
<rect x="879.70" y="436.75" width="6.80" height="76.25" fill="#fff" stroke="#fff" stroke-width="1.8" stroke-opacity=".9" />
<rect x="744.50" y="512.50" width="210.50" height="7.00" fill="#fff" stroke="#fff" stroke-width="1.8" stroke-opacity=".9" />
<rect x="738.00" y="683.20" width="223.30" height="6.80" fill="#fff" stroke="#fff" stroke-width="1.8" stroke-opacity=".9" />
<rect x="37.50" y="42.00" width="500.50" height="7.25" fill="#3b3b3b" />
<rect x="37.50" y="42.00" width="7.10" height="53.00" fill="#3b3b3b" />
<polygon points="37.50,92.50 44.60,94.80 22.30,158.00 14.80,158.00 14.80,156.50" fill="#3b3b3b" />
<rect x="14.80" y="157.00" width="7.50" height="242.00" fill="#3b3b3b" />
<polygon points="14.80,399.70 14.80,396.00 22.30,395.60 50.40,424.00 50.40,428.00 43.30,427.60" fill="#3b3b3b" />
<rect x="43.30" y="426.00" width="7.10" height="34.00" fill="#3b3b3b" />
<rect x="43.30" y="452.80" width="86.70" height="7.20" fill="#3b3b3b" />
<rect x="123.30" y="452.80" width="6.70" height="22.50" fill="#3b3b3b" />
<rect x="123.30" y="468.40" width="621.70" height="6.90" fill="#3b3b3b" />
<rect x="250.00" y="49.00" width="7.50" height="69.00" fill="#3b3b3b" />
<rect x="250.00" y="236.75" width="7.50" height="232.25" fill="#3b3b3b" />
<rect x="257.00" y="264.50" width="143.00" height="7.50" fill="#3b3b3b" />
<rect x="393.00" y="264.50" width="7.00" height="52.25" fill="#3b3b3b" />
<rect x="419.25" y="428.25" width="38.25" height="40.75" fill="#3b3b3b" />
<rect x="426.30" y="435.50" width="24.20" height="32.70" fill="#f6f6f6" />
<clipPath id="hc1"><rect x="426.30" y="435.50" width="24.20" height="32.70"/></clipPath><path clip-path="url(#hc1)" d="M425.30 433.75L424.55 434.50M425.30 441.00L431.80 434.50M425.30 448.25L439.05 434.50M425.30 455.50L446.30 434.50M425.30 462.75L453.55 434.50M425.30 470.00L460.80 434.50M425.30 477.25L468.05 434.50M425.30 484.50L475.30 434.50M425.30 491.75L482.55 434.50M425.30 499.00L489.80 434.50" stroke="#505050" stroke-width="0.9" fill="none"/>
<rect x="450.50" y="475.00" width="7.00" height="43.25" fill="#3b3b3b" />
<rect x="388.00" y="475.00" width="7.00" height="215.00" fill="#3b3b3b" />
<rect x="388.00" y="683.00" width="8.00" height="7.00" fill="#3b3b3b" />
<rect x="732.50" y="683.00" width="12.50" height="7.00" fill="#3b3b3b" />
<rect x="537.50" y="15.00" width="7.10" height="237.50" fill="#3b3b3b" />
<rect x="537.50" y="15.00" width="386.10" height="6.90" fill="#3b3b3b" />
<rect x="662.50" y="21.00" width="7.10" height="231.50" fill="#3b3b3b" />
<rect x="630.50" y="108.75" width="39.10" height="52.75" fill="#3b3b3b" />
<rect x="637.20" y="115.10" width="25.70" height="45.90" fill="#f6f6f6" />
<clipPath id="hc2"><rect x="637.20" y="115.10" width="25.70" height="45.90"/></clipPath><path clip-path="url(#hc2)" d="M636.20 112.82L634.92 114.10M636.20 120.70L642.80 114.10M636.20 128.58L650.68 114.10M636.20 136.46L658.56 114.10M636.20 144.34L666.44 114.10M636.20 152.22L674.32 114.10M636.20 160.10L682.20 114.10M636.20 167.98L690.08 114.10M636.20 175.86L697.96 114.10M636.20 183.74L705.84 114.10M636.20 191.62L713.72 114.10" stroke="#505050" stroke-width="0.9" fill="none"/>
<rect x="544.00" y="161.25" width="119.00" height="6.35" fill="#3b3b3b" />
<rect x="537.50" y="245.50" width="406.80" height="7.10" fill="#3b3b3b" />
<rect x="916.50" y="15.00" width="7.10" height="35.00" fill="#3b3b3b" />
<polygon points="916.50,49.00 923.60,47.00 939.30,110.00 939.30,113.50 932.00,113.50" fill="#3b3b3b" />
<rect x="932.00" y="113.00" width="7.30" height="43.00" fill="#3b3b3b" />
<polygon points="932.00,154.00 939.30,156.50 918.30,216.00 911.30,218.00 911.30,215.00" fill="#3b3b3b" />
<rect x="911.30" y="215.00" width="7.00" height="31.00" fill="#3b3b3b" />
<rect x="937.20" y="245.50" width="7.10" height="40.80" fill="#3b3b3b" />
<rect x="937.20" y="279.50" width="24.10" height="6.80" fill="#3b3b3b" />
<rect x="954.40" y="279.50" width="6.90" height="410.50" fill="#3b3b3b" />
<rect x="738.00" y="252.00" width="7.00" height="438.00" fill="#3b3b3b" />
<rect x="614.25" y="313.00" width="124.25" height="7.00" fill="#3b3b3b" />
<rect x="614.25" y="313.00" width="38.25" height="35.25" fill="#3b3b3b" />
<rect x="621.50" y="320.20" width="24.50" height="20.80" fill="#f6f6f6" />
<clipPath id="hc3"><rect x="621.50" y="320.20" width="24.50" height="20.80"/></clipPath><path clip-path="url(#hc3)" d="M620.50 318.35L619.65 319.20M620.50 325.40L626.70 319.20M620.50 332.45L633.75 319.20M620.50 339.50L640.80 319.20M620.50 346.55L647.85 319.20M620.50 353.60L654.90 319.20M620.50 360.65L661.95 319.20M620.50 367.70L669.00 319.20" stroke="#505050" stroke-width="0.9" fill="none"/>
<rect x="645.70" y="313.00" width="6.80" height="156.00" fill="#3b3b3b" />
<rect x="744.50" y="436.75" width="142.00" height="7.25" fill="#3b3b3b" />
<rect x="879.70" y="436.75" width="6.80" height="76.25" fill="#3b3b3b" />
<rect x="744.50" y="512.50" width="210.50" height="7.00" fill="#3b3b3b" />
<rect x="738.00" y="683.20" width="223.30" height="6.80" fill="#3b3b3b" />
<path d="M37.5 42L44.6 49.25M43.3 460L50.4 452.8M130 452.8L123.3 460M123.3 475.3L130 468.4M537.5 15L544.6 21.9M923.6 15L916.5 21.9M537.5 252.6L544.6 245.5M944.3 245.5L937.2 252.6M937.2 286.3L944.3 279.5M961.3 279.5L954.4 286.3M961.3 690L954.4 683.2M400 264.5L393 272M886.5 436.75L879.7 444M630.5 108.75L637.2 115.1M614.25 313L621.5 320.2M614.25 348.25L621.5 341M419.25 428.25L426.3 435.5M457.5 428.25L450.5 435.5M388 690L395 683M250 49.25L253.75 45.625L257.5 49.25M253.75 45.625L253.75 42M537.5 42L541.05 45.625L537.5 49.25M541.05 45.625L544.6 45.625M662.5 21.9L666.05 18.45L669.6 21.9M666.05 18.45L666.05 15M662.5 245.5L666.05 249.05L669.6 245.5M666.05 249.05L666.05 252.6M544.6 161.25L541.05 164.425L544.6 167.6M541.05 164.425L537.5 164.425M662.5 161.25L666.05 164.425L662.5 167.6M666.05 164.425L669.6 164.425M662.5 108.75L666.05 111.925L662.5 115.1M666.05 111.925L669.6 111.925M630.5 161.25L633.85 164.425L637.2 161.25M633.85 164.425L633.85 167.6M911.3 245.5L914.8 249.05L918.3 245.5M914.8 249.05L914.8 252.6M738 252.6L741.5 249.05L745 252.6M741.5 249.05L741.5 245.5M257.5 264.5L253.75 268.25L257.5 272M253.75 268.25L250 268.25M250 468.4L253.75 471.85L257.5 468.4M253.75 471.85L253.75 475.3M388 475.3L391.5 471.85L395 475.3M391.5 471.85L391.5 468.4M419.25 468.4L422.775 471.85L426.3 468.4M422.775 471.85L422.775 475.3M450.5 468.4L454.0 471.85L457.5 468.4M454.0 471.85L454.0 475.3M450.5 475.3L454.0 471.85L457.5 475.3M454.0 471.85L454.0 468.4M645.7 468.4L649.1 471.85L652.5 468.4M649.1 471.85L649.1 475.3M738 468.4L741.5 471.85L738 475.3M741.5 471.85L745 471.85M738 313L741.5 316.5L738 320M741.5 316.5L745 316.5M745 436.75L741.5 440.375L745 444M741.5 440.375L738 440.375M745 512.5L741.5 516.0L745 519.5M741.5 516.0L738 516.0M954.4 512.5L957.8499999999999 516.0L954.4 519.5M957.8499999999999 516.0L961.3 516.0M879.7 512.5L883.1 516.0L886.5 512.5M883.1 516.0L883.1 519.5M738 683.2L741.5 686.6L745 683.2M741.5 686.6L741.5 690M645.7 320L649.1 316.5L652.5 320M649.1 316.5L649.1 313M645.7 341L649.1 344.625L645.7 348.25M649.1 344.625L652.5 344.625" fill="none" stroke="#5e5e5e" stroke-width="0.55"/>
<rect x="57.50" y="452.80" width="58.30" height="7.20" fill="#fff" />
<line x1="57.5" y1="453.1" x2="115.8" y2="453.1" stroke="#d4d4d4" stroke-width="0.8"/>
<line x1="57.5" y1="459.7" x2="115.8" y2="459.7" stroke="#d4d4d4" stroke-width="0.8"/>
<rect x="478.25" y="468.40" width="45.50" height="6.90" fill="#fff" />
<line x1="478.25" y1="468.7" x2="523.75" y2="468.7" stroke="#d4d4d4" stroke-width="0.8"/>
<line x1="478.25" y1="475.0" x2="523.75" y2="475.0" stroke="#d4d4d4" stroke-width="0.8"/>
<rect x="662.50" y="59.50" width="7.10" height="46.00" fill="#fff" />
<line x1="662.8" y1="59.5" x2="662.8" y2="105.5" stroke="#d4d4d4" stroke-width="0.8"/>
<line x1="669.3000000000001" y1="59.5" x2="669.3000000000001" y2="105.5" stroke="#d4d4d4" stroke-width="0.8"/>
<rect x="662.50" y="180.00" width="7.10" height="42.50" fill="#fff" />
<line x1="662.8" y1="180" x2="662.8" y2="222.5" stroke="#d4d4d4" stroke-width="0.8"/>
<line x1="669.3000000000001" y1="180" x2="669.3000000000001" y2="222.5" stroke="#d4d4d4" stroke-width="0.8"/>
<rect x="675.75" y="245.50" width="51.00" height="7.10" fill="#fff" />
<line x1="675.75" y1="245.8" x2="726.75" y2="245.8" stroke="#d4d4d4" stroke-width="0.8"/>
<line x1="675.75" y1="252.29999999999998" x2="726.75" y2="252.29999999999998" stroke="#d4d4d4" stroke-width="0.8"/>
<rect x="738.00" y="258.00" width="7.00" height="50.00" fill="#fff" />
<line x1="738.3" y1="258" x2="738.3" y2="308" stroke="#d4d4d4" stroke-width="0.8"/>
<line x1="744.7" y1="258" x2="744.7" y2="308" stroke="#d4d4d4" stroke-width="0.8"/>
<rect x="692.50" y="313.00" width="39.25" height="7.00" fill="#fff" />
<line x1="692.5" y1="313.3" x2="731.75" y2="313.3" stroke="#d4d4d4" stroke-width="0.8"/>
<line x1="692.5" y1="319.7" x2="731.75" y2="319.7" stroke="#d4d4d4" stroke-width="0.8"/>
<rect x="787.25" y="436.75" width="72.50" height="7.25" fill="#fff" />
<line x1="787.25" y1="437.05" x2="859.75" y2="437.05" stroke="#d4d4d4" stroke-width="0.8"/>
<line x1="787.25" y1="443.7" x2="859.75" y2="443.7" stroke="#d4d4d4" stroke-width="0.8"/>
<rect x="738.00" y="549.50" width="7.00" height="59.25" fill="#fff" />
<line x1="738.3" y1="549.5" x2="738.3" y2="608.75" stroke="#d4d4d4" stroke-width="0.8"/>
<line x1="744.7" y1="549.5" x2="744.7" y2="608.75" stroke="#d4d4d4" stroke-width="0.8"/>
<g transform="translate(91.70,41.90)"><rect x="0" y="0" width="46.60" height="7.30" fill="#fff" stroke="#666" stroke-width="0.85"/><rect x="6.80" y="0.9" width="33.00" height="5.50" fill="#fff" stroke="#666" stroke-width="0.85"/><line x1="6.80" y1="3.65" x2="39.80" y2="3.65" stroke="#666" stroke-width="0.85"/></g>
<g transform="translate(144.60,41.90)"><rect x="0" y="0" width="43.50" height="7.30" fill="#fff" stroke="#666" stroke-width="0.85"/><rect x="6.80" y="0.9" width="29.90" height="5.50" fill="#fff" stroke="#666" stroke-width="0.85"/><line x1="6.80" y1="3.65" x2="36.70" y2="3.65" stroke="#666" stroke-width="0.85"/></g>
<g transform="translate(373.00,41.90)"><rect x="0" y="0" width="98.80" height="7.30" fill="#fff" stroke="#666" stroke-width="0.85"/><rect x="6.80" y="0.9" width="85.20" height="5.50" fill="#fff" stroke="#666" stroke-width="0.85"/><line x1="6.80" y1="3.65" x2="92.00" y2="3.65" stroke="#666" stroke-width="0.85"/></g>
<g transform="translate(554.30,14.90)"><rect x="0" y="0" width="24.70" height="7.00" fill="#fff" stroke="#666" stroke-width="0.85"/><rect x="4.45" y="0.9" width="15.81" height="5.20" fill="#fff" stroke="#666" stroke-width="0.85"/><line x1="4.45" y1="3.50" x2="20.25" y2="3.50" stroke="#666" stroke-width="0.85"/></g>
<g transform="translate(685.00,14.90)"><rect x="0" y="0" width="52.50" height="7.00" fill="#fff" stroke="#666" stroke-width="0.85"/><rect x="6.80" y="0.9" width="38.90" height="5.20" fill="#fff" stroke="#666" stroke-width="0.85"/><line x1="6.80" y1="3.50" x2="45.70" y2="3.50" stroke="#666" stroke-width="0.85"/></g>
<g transform="translate(847.30,14.90)"><rect x="0" y="0" width="49.50" height="7.00" fill="#fff" stroke="#666" stroke-width="0.85"/><rect x="6.80" y="0.9" width="35.90" height="5.20" fill="#fff" stroke="#666" stroke-width="0.85"/><line x1="6.80" y1="3.50" x2="42.70" y2="3.50" stroke="#666" stroke-width="0.85"/></g>
<g transform="translate(559.30,468.30)"><rect x="0" y="0" width="45.20" height="7.00" fill="#fff" stroke="#666" stroke-width="0.85"/><rect x="6.80" y="0.9" width="31.60" height="5.20" fill="#fff" stroke="#666" stroke-width="0.85"/><line x1="6.80" y1="3.50" x2="38.40" y2="3.50" stroke="#666" stroke-width="0.85"/></g>
<g transform="translate(22.20,157.60) rotate(90)"><rect x="0" y="0" width="43.10" height="7.40" fill="#fff" stroke="#666" stroke-width="0.85"/><rect x="6.80" y="0.9" width="29.50" height="5.60" fill="#fff" stroke="#666" stroke-width="0.85"/><line x1="6.80" y1="3.70" x2="36.30" y2="3.70" stroke="#666" stroke-width="0.85"/></g>
<g transform="translate(22.20,208.00) rotate(90)"><rect x="0" y="0" width="48.70" height="7.40" fill="#fff" stroke="#666" stroke-width="0.85"/><rect x="6.80" y="0.9" width="35.10" height="5.60" fill="#fff" stroke="#666" stroke-width="0.85"/><line x1="6.80" y1="3.70" x2="41.90" y2="3.70" stroke="#666" stroke-width="0.85"/></g>
<g transform="translate(22.20,272.80) rotate(90)"><rect x="0" y="0" width="50.20" height="7.40" fill="#fff" stroke="#666" stroke-width="0.85"/><rect x="6.80" y="0.9" width="36.60" height="5.60" fill="#fff" stroke="#666" stroke-width="0.85"/><line x1="6.80" y1="3.70" x2="43.40" y2="3.70" stroke="#666" stroke-width="0.85"/></g>
<g transform="translate(22.20,332.80) rotate(90)"><rect x="0" y="0" width="48.90" height="7.40" fill="#fff" stroke="#666" stroke-width="0.85"/><rect x="6.80" y="0.9" width="35.30" height="5.60" fill="#fff" stroke="#666" stroke-width="0.85"/><line x1="6.80" y1="3.70" x2="42.10" y2="3.70" stroke="#666" stroke-width="0.85"/></g>
<g transform="translate(961.30,287.50) rotate(90)"><rect x="0" y="0" width="50.00" height="6.90" fill="#fff" stroke="#666" stroke-width="0.85"/><rect x="6.80" y="0.9" width="36.40" height="5.10" fill="#fff" stroke="#666" stroke-width="0.85"/><line x1="6.80" y1="3.45" x2="43.20" y2="3.45" stroke="#666" stroke-width="0.85"/></g>
<g transform="translate(961.30,346.80) rotate(90)"><rect x="0" y="0" width="50.70" height="6.90" fill="#fff" stroke="#666" stroke-width="0.85"/><rect x="6.80" y="0.9" width="37.10" height="5.10" fill="#fff" stroke="#666" stroke-width="0.85"/><line x1="6.80" y1="3.45" x2="43.90" y2="3.45" stroke="#666" stroke-width="0.85"/></g>
<g transform="translate(961.30,407.50) rotate(90)"><rect x="0" y="0" width="71.80" height="6.90" fill="#fff" stroke="#666" stroke-width="0.85"/><rect x="6.80" y="0.9" width="58.20" height="5.10" fill="#fff" stroke="#666" stroke-width="0.85"/><line x1="6.80" y1="3.45" x2="65.00" y2="3.45" stroke="#666" stroke-width="0.85"/></g>
<g transform="translate(395.00,487.50) rotate(90)"><rect x="0" y="0" width="68.80" height="7.00" fill="#fff" stroke="#666" stroke-width="0.85"/><rect x="6.80" y="0.9" width="55.20" height="5.20" fill="#fff" stroke="#666" stroke-width="0.85"/><line x1="6.80" y1="3.50" x2="62.00" y2="3.50" stroke="#666" stroke-width="0.85"/></g>
<g transform="translate(395.00,622.50) rotate(90)"><rect x="0" y="0" width="59.50" height="7.00" fill="#fff" stroke="#666" stroke-width="0.85"/><rect x="6.80" y="0.9" width="45.90" height="5.20" fill="#fff" stroke="#666" stroke-width="0.85"/><line x1="6.80" y1="3.50" x2="52.70" y2="3.50" stroke="#666" stroke-width="0.85"/></g>
<rect x="388.3" y="560.5" width="6.4" height="57.5" fill="#fff" stroke="#bdbdbd" stroke-width="0.85"/>
<g transform="translate(396,683.2)"><rect x="0" y="0" width="336.6" height="6.8" fill="#fff" stroke="#666" stroke-width="0.85"/><rect x="7" y="0.9" width="322.6" height="5" fill="#fff" stroke="#666" stroke-width="0.85"/><line x1="7" y1="3.4" x2="329.6" y2="3.4" stroke="#666" stroke-width="0.85"/></g>
<g transform="translate(939.30,113.30) rotate(90)"><rect x="0" y="0" width="41.70" height="7.30" fill="#fff" stroke="#666" stroke-width="0.85"/><rect x="6.80" y="0.9" width="28.10" height="5.50" fill="#fff" stroke="#666" stroke-width="0.85"/><line x1="6.80" y1="3.65" x2="34.90" y2="3.65" stroke="#666" stroke-width="0.85"/></g>
<g transform="translate(42.94,99.50) rotate(109.435)"><rect x="0" y="0" width="53.02" height="7.40" fill="#fff" stroke="#666" stroke-width="0.85"/><rect x="6.80" y="0.9" width="39.42" height="5.60" fill="#fff" stroke="#666" stroke-width="0.85"/><line x1="6.80" y1="3.70" x2="46.22" y2="3.70" stroke="#666" stroke-width="0.85"/></g>
<g transform="translate(23.88,397.20) rotate(45.304)"><rect x="0" y="0" width="36.01" height="7.30" fill="#fff" stroke="#666" stroke-width="0.85"/><rect x="6.48" y="0.9" width="23.05" height="5.50" fill="#fff" stroke="#666" stroke-width="0.85"/><line x1="6.48" y1="3.65" x2="29.53" y2="3.65" stroke="#666" stroke-width="0.85"/></g>
<g transform="translate(926.22,57.50) rotate(76.007)"><rect x="0" y="0" width="48.44" height="7.30" fill="#fff" stroke="#666" stroke-width="0.85"/><rect x="6.80" y="0.9" width="34.84" height="5.50" fill="#fff" stroke="#666" stroke-width="0.85"/><line x1="6.80" y1="3.65" x2="41.64" y2="3.65" stroke="#666" stroke-width="0.85"/></g>
<g transform="translate(935.77,166.50) rotate(109.440)"><rect x="0" y="0" width="48.78" height="7.30" fill="#fff" stroke="#666" stroke-width="0.85"/><rect x="6.80" y="0.9" width="35.18" height="5.50" fill="#fff" stroke="#666" stroke-width="0.85"/><line x1="6.80" y1="3.65" x2="41.98" y2="3.65" stroke="#666" stroke-width="0.85"/></g>
<polygon points="84.10,469.30 96.20,486.70 72.00,486.70" fill="#a8a8a8" />
<g id="txt">
<text class="h" x="140.75" y="253.00" font-size="15.5" font-weight="bold" text-anchor="middle" textLength="96.90" lengthAdjust="spacingAndGlyphs">Dining Room</text><text class="f" x="140.75" y="253.00" font-size="15.5" font-weight="bold" text-anchor="middle" textLength="96.90" lengthAdjust="spacingAndGlyphs">Dining Room</text>
<text class="h" x="140.45" y="270.00" font-size="12" font-weight="bold" text-anchor="middle" textLength="70.50" lengthAdjust="spacingAndGlyphs">11'7&quot; x 21'4&quot;</text><text class="f" x="140.45" y="270.00" font-size="12" font-weight="bold" text-anchor="middle" textLength="70.50" lengthAdjust="spacingAndGlyphs">11'7&quot; x 21'4&quot;</text>
<text class="h" x="394.35" y="147.90" font-size="15.5" font-weight="bold" text-anchor="middle" textLength="92.70" lengthAdjust="spacingAndGlyphs">Living Room</text><text class="f" x="394.35" y="147.90" font-size="15.5" font-weight="bold" text-anchor="middle" textLength="92.70" lengthAdjust="spacingAndGlyphs">Living Room</text>
<text class="h" x="393.85" y="164.70" font-size="12" font-weight="bold" text-anchor="middle" textLength="70.90" lengthAdjust="spacingAndGlyphs">14'3&quot; x 11'0&quot;</text><text class="f" x="393.85" y="164.70" font-size="12" font-weight="bold" text-anchor="middle" textLength="70.90" lengthAdjust="spacingAndGlyphs">14'3&quot; x 11'0&quot;</text>
<text class="h" x="599.00" y="73.00" font-size="15.5" font-weight="bold" text-anchor="middle" textLength="60.50" lengthAdjust="spacingAndGlyphs">Primary</text><text class="f" x="599.00" y="73.00" font-size="15.5" font-weight="bold" text-anchor="middle" textLength="60.50" lengthAdjust="spacingAndGlyphs">Primary</text>
<text class="h" x="598.75" y="92.50" font-size="15.5" font-weight="bold" text-anchor="middle" textLength="76.50" lengthAdjust="spacingAndGlyphs">Bathroom</text><text class="f" x="598.75" y="92.50" font-size="15.5" font-weight="bold" text-anchor="middle" textLength="76.50" lengthAdjust="spacingAndGlyphs">Bathroom</text>
<text class="h" x="598.25" y="108.75" font-size="12" font-weight="bold" text-anchor="middle" textLength="57.50" lengthAdjust="spacingAndGlyphs">6'0&quot; x 7'0&quot;</text><text class="f" x="598.25" y="108.75" font-size="12" font-weight="bold" text-anchor="middle" textLength="57.50" lengthAdjust="spacingAndGlyphs">6'0&quot; x 7'0&quot;</text>
<text class="h" x="604.00" y="203.00" font-size="15.5" font-weight="bold" text-anchor="middle" textLength="112.00" lengthAdjust="spacingAndGlyphs">Primary Closet</text><text class="f" x="604.00" y="203.00" font-size="15.5" font-weight="bold" text-anchor="middle" textLength="112.00" lengthAdjust="spacingAndGlyphs">Primary Closet</text>
<text class="h" x="603.75" y="219.50" font-size="12" font-weight="bold" text-anchor="middle" textLength="65.00" lengthAdjust="spacingAndGlyphs">6'0&quot; x 3'11&quot;</text><text class="f" x="603.75" y="219.50" font-size="12" font-weight="bold" text-anchor="middle" textLength="65.00" lengthAdjust="spacingAndGlyphs">6'0&quot; x 3'11&quot;</text>
<text class="h" x="796.40" y="128.40" font-size="15.5" font-weight="bold" text-anchor="middle" textLength="134.00" lengthAdjust="spacingAndGlyphs">Primary Bedroom</text><text class="f" x="796.40" y="128.40" font-size="15.5" font-weight="bold" text-anchor="middle" textLength="134.00" lengthAdjust="spacingAndGlyphs">Primary Bedroom</text>
<text class="h" x="796.55" y="145.50" font-size="12" font-weight="bold" text-anchor="middle" textLength="71.30" lengthAdjust="spacingAndGlyphs">13'4&quot; x 11'4&quot;</text><text class="f" x="796.55" y="145.50" font-size="12" font-weight="bold" text-anchor="middle" textLength="71.30" lengthAdjust="spacingAndGlyphs">13'4&quot; x 11'4&quot;</text>
<text class="h" x="345.45" y="370.50" font-size="15.5" font-weight="bold" text-anchor="middle" textLength="57.10" lengthAdjust="spacingAndGlyphs">Kitchen</text><text class="f" x="345.45" y="370.50" font-size="15.5" font-weight="bold" text-anchor="middle" textLength="57.10" lengthAdjust="spacingAndGlyphs">Kitchen</text>
<text class="h" x="344.95" y="387.40" font-size="12" font-weight="bold" text-anchor="middle" textLength="71.90" lengthAdjust="spacingAndGlyphs">9'10&quot; x 10'0&quot;</text><text class="f" x="344.95" y="387.40" font-size="12" font-weight="bold" text-anchor="middle" textLength="71.90" lengthAdjust="spacingAndGlyphs">9'10&quot; x 10'0&quot;</text>
<text class="h" x="525.75" y="348.60" font-size="15.5" font-weight="bold" text-anchor="middle" textLength="96.90" lengthAdjust="spacingAndGlyphs">Dining Room</text><text class="f" x="525.75" y="348.60" font-size="15.5" font-weight="bold" text-anchor="middle" textLength="96.90" lengthAdjust="spacingAndGlyphs">Dining Room</text>
<text class="h" x="525.45" y="365.60" font-size="12" font-weight="bold" text-anchor="middle" textLength="64.90" lengthAdjust="spacingAndGlyphs">9'7&quot; x 11'0&quot;</text><text class="f" x="525.45" y="365.60" font-size="12" font-weight="bold" text-anchor="middle" textLength="64.90" lengthAdjust="spacingAndGlyphs">9'7&quot; x 11'0&quot;</text>
<text class="h" x="695.62" y="392.00" font-size="15.5" font-weight="bold" text-anchor="middle" textLength="76.25" lengthAdjust="spacingAndGlyphs">Bathroom</text><text class="f" x="695.62" y="392.00" font-size="15.5" font-weight="bold" text-anchor="middle" textLength="76.25" lengthAdjust="spacingAndGlyphs">Bathroom</text>
<text class="h" x="695.25" y="408.75" font-size="12" font-weight="bold" text-anchor="middle" textLength="58.00" lengthAdjust="spacingAndGlyphs">4'4&quot; x 7'6&quot;</text><text class="f" x="695.25" y="408.75" font-size="12" font-weight="bold" text-anchor="middle" textLength="58.00" lengthAdjust="spacingAndGlyphs">4'4&quot; x 7'6&quot;</text>
<text class="h" x="856.62" y="357.00" font-size="15.5" font-weight="bold" text-anchor="middle" textLength="68.75" lengthAdjust="spacingAndGlyphs">Bedroom</text><text class="f" x="856.62" y="357.00" font-size="15.5" font-weight="bold" text-anchor="middle" textLength="68.75" lengthAdjust="spacingAndGlyphs">Bedroom</text>
<text class="h" x="856.62" y="373.75" font-size="12" font-weight="bold" text-anchor="middle" textLength="71.25" lengthAdjust="spacingAndGlyphs">10'8&quot; x 13'3&quot;</text><text class="f" x="856.62" y="373.75" font-size="12" font-weight="bold" text-anchor="middle" textLength="71.25" lengthAdjust="spacingAndGlyphs">10'8&quot; x 13'3&quot;</text>
<text class="h" x="808.25" y="485.50" font-size="15.5" font-weight="bold" text-anchor="middle" textLength="47.00" lengthAdjust="spacingAndGlyphs">Closet</text><text class="f" x="808.25" y="485.50" font-size="15.5" font-weight="bold" text-anchor="middle" textLength="47.00" lengthAdjust="spacingAndGlyphs">Closet</text>
<text class="h" x="843.88" y="593.25" font-size="15.5" font-weight="bold" text-anchor="middle" textLength="58.25" lengthAdjust="spacingAndGlyphs">Storage</text><text class="f" x="843.88" y="593.25" font-size="15.5" font-weight="bold" text-anchor="middle" textLength="58.25" lengthAdjust="spacingAndGlyphs">Storage</text>
<text class="h" x="561.30" y="575.80" font-size="15.5" font-weight="bold" text-anchor="middle" textLength="117.40" lengthAdjust="spacingAndGlyphs">Screened Porch</text><text class="f" x="561.30" y="575.80" font-size="15.5" font-weight="bold" text-anchor="middle" textLength="117.40" lengthAdjust="spacingAndGlyphs">Screened Porch</text>
<text class="h" x="561.35" y="592.70" font-size="12" font-weight="bold" text-anchor="middle" textLength="70.30" lengthAdjust="spacingAndGlyphs">17'5&quot; x 10'7&quot;</text><text class="f" x="561.35" y="592.70" font-size="12" font-weight="bold" text-anchor="middle" textLength="70.30" lengthAdjust="spacingAndGlyphs">17'5&quot; x 10'7&quot;</text>
<text class="h" x="84.35" y="510.70" font-size="15.5" font-weight="bold" text-anchor="middle" textLength="39.90" lengthAdjust="spacingAndGlyphs">Entry</text><text class="f" x="84.35" y="510.70" font-size="15.5" font-weight="bold" text-anchor="middle" textLength="39.90" lengthAdjust="spacingAndGlyphs">Entry</text>
<text x="373" y="714.3" font-size="7.6" font-weight="normal" fill="#222" textLength="230" lengthAdjust="spacingAndGlyphs">All dimensions are approximate and subject to independent verification</text>
</g>
</svg></div>
</body></html>
